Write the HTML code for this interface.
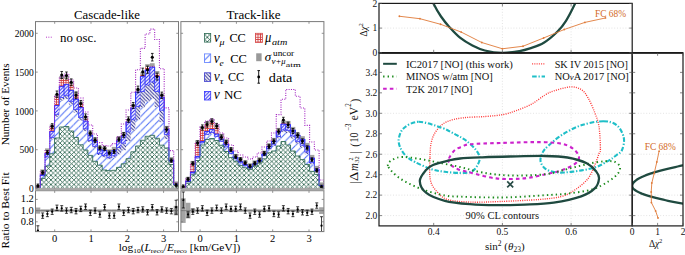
<!DOCTYPE html><html><head><meta charset="utf-8"><style>html,body{margin:0;padding:0;background:#fff;width:685px;height:255px;overflow:hidden}svg{display:block}</style></head><body>
<svg width="685" height="255" viewBox="0 0 685 255">
<rect width="685" height="255" fill="#fff"/>
<defs>
<pattern id="pG" patternUnits="userSpaceOnUse" width="4.6" height="4.6" x="0.3" y="0.5">
<rect width="4.6" height="4.6" fill="#fff"/>
<path d="M-1,1 L1,-1 M0,4.6 L4.6,0 M3.5999999999999996,5.6 L5.6,3.5999999999999996 M-1,3.5999999999999996 L1,5.6 M0,0 L4.6,4.6 M3.5999999999999996,-1 L5.6,1" stroke="#215c46" stroke-width="0.82"/>
</pattern>
<pattern id="pE" patternUnits="userSpaceOnUse" width="7.35" height="7.35">
<rect width="7.35" height="7.35" fill="#fff"/>
<path d="M-1,1 L1,-1 M0,7.35 L7.35,0 M6.35,8.35 L8.35,6.35" stroke="#4a6cf5" stroke-width="1.0"/>
</pattern>
<pattern id="pT" patternUnits="userSpaceOnUse" width="3.5" height="3.5">
<rect width="3.5" height="3.5" fill="#fff"/>
<path d="M-1,2.5 L1,4.5 M0,0 L3.5,3.5 M2.5,-1 L4.5,1" stroke="#25258c" stroke-width="0.95"/>
</pattern>
<pattern id="pN" patternUnits="userSpaceOnUse" width="3.5" height="3.5">
<rect width="3.5" height="3.5" fill="#fff"/>
<path d="M-1,1 L1,-1 M0,3.5 L3.5,0 M2.5,4.5 L4.5,2.5" stroke="#2323f0" stroke-width="1.05"/>
</pattern>
<pattern id="pR" patternUnits="userSpaceOnUse" width="2.4" height="2.4">
<rect width="2.4" height="2.4" fill="#fff"/>
<path d="M1.2,0 V2.4 M0,1.2 H2.4" stroke="#cf3838" stroke-width="0.9"/>
</pattern>
</defs>
<g font-family="Liberation Serif, serif" fill="#000">
<text x="107" y="18.6" font-size="12.5" text-anchor="middle" textLength="66" lengthAdjust="spacingAndGlyphs">Cascade-like</text>
<text x="253.5" y="18.6" font-size="12.5" text-anchor="middle" textLength="54" lengthAdjust="spacingAndGlyphs">Track-like</text>
</g>
<clipPath id="cc"><rect x="35.5" y="21.6" width="143" height="166.9"/></clipPath>
<clipPath id="ct"><rect x="180.9" y="21.6" width="143" height="166.9"/></clipPath>
<clipPath id="rc"><rect x="35.5" y="190.7" width="143" height="40.900000000000006"/></clipPath>
<clipPath id="rt"><rect x="180.9" y="190.7" width="143" height="40.900000000000006"/></clipPath>
<g clip-path="url(#cc)"><rect x="35.50" y="188.31" width="4.77" height="0.19" fill="url(#pE)"/>
<rect x="35.50" y="188.20" width="4.77" height="0.08" fill="url(#pN)" stroke="#2a2aff" stroke-width="0.7"/>
<rect x="35.50" y="187.80" width="4.77" height="0.40" fill="url(#pR)"/>
<rect x="40.27" y="178.40" width="4.77" height="10.10" fill="url(#pG)"/>
<rect x="40.27" y="176.06" width="4.77" height="2.34" fill="url(#pE)"/>
<rect x="40.27" y="175.77" width="4.77" height="0.29" fill="url(#pT)"/>
<rect x="40.27" y="174.80" width="4.77" height="0.97" fill="url(#pN)" stroke="#2a2aff" stroke-width="0.7"/>
<rect x="40.27" y="172.00" width="4.77" height="2.80" fill="url(#pR)"/>
<rect x="45.03" y="166.00" width="4.77" height="22.50" fill="url(#pG)"/>
<rect x="45.03" y="157.88" width="4.77" height="8.12" fill="url(#pE)"/>
<rect x="45.03" y="156.88" width="4.77" height="1.00" fill="url(#pT)"/>
<rect x="45.03" y="153.50" width="4.77" height="3.38" fill="url(#pN)" stroke="#2a2aff" stroke-width="0.7"/>
<rect x="45.03" y="151.00" width="4.77" height="2.50" fill="url(#pR)"/>
<rect x="49.80" y="153.80" width="4.77" height="34.70" fill="url(#pG)"/>
<rect x="49.80" y="139.31" width="4.77" height="14.50" fill="url(#pE)"/>
<rect x="49.80" y="137.52" width="4.77" height="1.78" fill="url(#pT)"/>
<rect x="49.80" y="131.50" width="4.77" height="6.02" fill="url(#pN)" stroke="#2a2aff" stroke-width="0.7"/>
<rect x="49.80" y="127.00" width="4.77" height="4.50" fill="url(#pR)"/>
<rect x="54.57" y="138.00" width="4.77" height="50.50" fill="url(#pG)"/>
<rect x="54.57" y="116.88" width="4.77" height="21.12" fill="url(#pE)"/>
<rect x="54.57" y="114.28" width="4.77" height="2.60" fill="url(#pT)"/>
<rect x="54.57" y="105.50" width="4.77" height="8.78" fill="url(#pN)" stroke="#2a2aff" stroke-width="0.7"/>
<rect x="54.57" y="97.20" width="4.77" height="8.30" fill="url(#pR)"/>
<rect x="59.33" y="127.00" width="4.77" height="61.50" fill="url(#pG)"/>
<rect x="59.33" y="100.61" width="4.77" height="26.39" fill="url(#pE)"/>
<rect x="59.33" y="97.36" width="4.77" height="3.25" fill="url(#pT)"/>
<rect x="59.33" y="86.40" width="4.77" height="10.96" fill="url(#pN)" stroke="#2a2aff" stroke-width="0.7"/>
<rect x="59.33" y="78.50" width="4.77" height="7.90" fill="url(#pR)"/>
<rect x="64.10" y="126.50" width="4.77" height="62.00" fill="url(#pG)"/>
<rect x="64.10" y="99.14" width="4.77" height="27.36" fill="url(#pE)"/>
<rect x="64.10" y="95.77" width="4.77" height="3.37" fill="url(#pT)"/>
<rect x="64.10" y="84.40" width="4.77" height="11.37" fill="url(#pN)" stroke="#2a2aff" stroke-width="0.7"/>
<rect x="64.10" y="78.50" width="4.77" height="5.90" fill="url(#pR)"/>
<rect x="68.87" y="131.00" width="4.77" height="57.50" fill="url(#pG)"/>
<rect x="68.87" y="104.55" width="4.77" height="26.45" fill="url(#pE)"/>
<rect x="68.87" y="101.29" width="4.77" height="3.26" fill="url(#pT)"/>
<rect x="68.87" y="90.30" width="4.77" height="10.99" fill="url(#pN)" stroke="#2a2aff" stroke-width="0.7"/>
<rect x="68.87" y="84.40" width="4.77" height="5.90" fill="url(#pR)"/>
<rect x="73.63" y="137.50" width="4.77" height="51.00" fill="url(#pG)"/>
<rect x="73.63" y="112.61" width="4.77" height="24.89" fill="url(#pE)"/>
<rect x="73.63" y="109.54" width="4.77" height="3.06" fill="url(#pT)"/>
<rect x="73.63" y="99.20" width="4.77" height="10.34" fill="url(#pN)" stroke="#2a2aff" stroke-width="0.7"/>
<rect x="73.63" y="94.20" width="4.77" height="5.00" fill="url(#pR)"/>
<rect x="78.40" y="144.80" width="4.77" height="43.70" fill="url(#pG)"/>
<rect x="78.40" y="120.56" width="4.77" height="24.25" fill="url(#pE)"/>
<rect x="78.40" y="117.57" width="4.77" height="2.98" fill="url(#pT)"/>
<rect x="78.40" y="107.50" width="4.77" height="10.07" fill="url(#pN)" stroke="#2a2aff" stroke-width="0.7"/>
<rect x="78.40" y="104.00" width="4.77" height="3.50" fill="url(#pR)"/>
<rect x="83.17" y="150.00" width="4.77" height="38.50" fill="url(#pG)"/>
<rect x="83.17" y="131.15" width="4.77" height="18.85" fill="url(#pE)"/>
<rect x="83.17" y="128.83" width="4.77" height="2.32" fill="url(#pT)"/>
<rect x="83.17" y="121.00" width="4.77" height="7.83" fill="url(#pN)" stroke="#2a2aff" stroke-width="0.7"/>
<rect x="83.17" y="118.60" width="4.77" height="2.40" fill="url(#pR)"/>
<rect x="87.93" y="155.40" width="4.77" height="33.10" fill="url(#pG)"/>
<rect x="87.93" y="142.14" width="4.77" height="13.26" fill="url(#pE)"/>
<rect x="87.93" y="140.51" width="4.77" height="1.63" fill="url(#pT)"/>
<rect x="87.93" y="135.00" width="4.77" height="5.51" fill="url(#pN)" stroke="#2a2aff" stroke-width="0.7"/>
<rect x="87.93" y="134.00" width="4.77" height="1.00" fill="url(#pR)"/>
<rect x="92.70" y="161.30" width="4.77" height="27.20" fill="url(#pG)"/>
<rect x="92.70" y="148.11" width="4.77" height="13.19" fill="url(#pE)"/>
<rect x="92.70" y="146.48" width="4.77" height="1.62" fill="url(#pT)"/>
<rect x="92.70" y="141.00" width="4.77" height="5.48" fill="url(#pN)" stroke="#2a2aff" stroke-width="0.7"/>
<rect x="92.70" y="140.00" width="4.77" height="1.00" fill="url(#pR)"/>
<rect x="97.47" y="165.20" width="4.77" height="23.30" fill="url(#pG)"/>
<rect x="97.47" y="155.00" width="4.77" height="10.20" fill="url(#pE)"/>
<rect x="97.47" y="153.74" width="4.77" height="1.26" fill="url(#pT)"/>
<rect x="97.47" y="149.50" width="4.77" height="4.24" fill="url(#pN)" stroke="#2a2aff" stroke-width="0.7"/>
<rect x="97.47" y="148.50" width="4.77" height="1.00" fill="url(#pR)"/>
<rect x="102.23" y="170.00" width="4.77" height="18.50" fill="url(#pG)"/>
<rect x="102.23" y="157.32" width="4.77" height="12.68" fill="url(#pE)"/>
<rect x="102.23" y="155.76" width="4.77" height="1.56" fill="url(#pT)"/>
<rect x="102.23" y="150.50" width="4.77" height="5.26" fill="url(#pN)" stroke="#2a2aff" stroke-width="0.7"/>
<rect x="102.23" y="149.50" width="4.77" height="1.00" fill="url(#pR)"/>
<rect x="107.00" y="170.70" width="4.77" height="17.80" fill="url(#pG)"/>
<rect x="107.00" y="159.19" width="4.77" height="11.50" fill="url(#pE)"/>
<rect x="107.00" y="157.78" width="4.77" height="1.42" fill="url(#pT)"/>
<rect x="107.00" y="153.00" width="4.77" height="4.78" fill="url(#pN)" stroke="#2a2aff" stroke-width="0.7"/>
<rect x="107.00" y="152.00" width="4.77" height="1.00" fill="url(#pR)"/>
<rect x="111.77" y="170.30" width="4.77" height="18.20" fill="url(#pG)"/>
<rect x="111.77" y="157.43" width="4.77" height="12.87" fill="url(#pE)"/>
<rect x="111.77" y="155.85" width="4.77" height="1.58" fill="url(#pT)"/>
<rect x="111.77" y="150.50" width="4.77" height="5.35" fill="url(#pN)" stroke="#2a2aff" stroke-width="0.7"/>
<rect x="111.77" y="149.50" width="4.77" height="1.00" fill="url(#pR)"/>
<rect x="116.53" y="167.40" width="4.77" height="21.10" fill="url(#pG)"/>
<rect x="116.53" y="154.25" width="4.77" height="13.15" fill="url(#pE)"/>
<rect x="116.53" y="147.40" width="4.77" height="6.85" fill="url(#pT)"/>
<rect x="116.53" y="140.00" width="4.77" height="7.40" fill="url(#pN)" stroke="#2a2aff" stroke-width="0.7"/>
<rect x="116.53" y="139.00" width="4.77" height="1.00" fill="url(#pR)"/>
<rect x="121.30" y="163.80" width="4.77" height="24.70" fill="url(#pG)"/>
<rect x="121.30" y="150.22" width="4.77" height="13.58" fill="url(#pE)"/>
<rect x="121.30" y="143.14" width="4.77" height="7.07" fill="url(#pT)"/>
<rect x="121.30" y="135.50" width="4.77" height="7.64" fill="url(#pN)" stroke="#2a2aff" stroke-width="0.7"/>
<rect x="121.30" y="134.50" width="4.77" height="1.00" fill="url(#pR)"/>
<rect x="126.07" y="158.70" width="4.77" height="29.80" fill="url(#pG)"/>
<rect x="126.07" y="141.08" width="4.77" height="17.62" fill="url(#pE)"/>
<rect x="126.07" y="131.91" width="4.77" height="9.18" fill="url(#pT)"/>
<rect x="126.07" y="122.00" width="4.77" height="9.91" fill="url(#pN)" stroke="#2a2aff" stroke-width="0.7"/>
<rect x="126.07" y="121.60" width="4.77" height="0.40" fill="url(#pR)"/>
<rect x="130.83" y="151.80" width="4.77" height="36.70" fill="url(#pG)"/>
<rect x="130.83" y="130.78" width="4.77" height="21.02" fill="url(#pE)"/>
<rect x="130.83" y="119.83" width="4.77" height="10.95" fill="url(#pT)"/>
<rect x="130.83" y="108.00" width="4.77" height="11.83" fill="url(#pN)" stroke="#2a2aff" stroke-width="0.7"/>
<rect x="130.83" y="106.50" width="4.77" height="1.50" fill="url(#pR)"/>
<rect x="135.60" y="146.00" width="4.77" height="42.50" fill="url(#pG)"/>
<rect x="135.60" y="120.08" width="4.77" height="25.92" fill="url(#pE)"/>
<rect x="135.60" y="106.58" width="4.77" height="13.50" fill="url(#pT)"/>
<rect x="135.60" y="92.00" width="4.77" height="14.58" fill="url(#pN)" stroke="#2a2aff" stroke-width="0.7"/>
<rect x="135.60" y="91.30" width="4.77" height="0.70" fill="url(#pR)"/>
<rect x="140.37" y="140.30" width="4.77" height="48.20" fill="url(#pG)"/>
<rect x="140.37" y="107.53" width="4.77" height="32.78" fill="url(#pE)"/>
<rect x="140.37" y="91.60" width="4.77" height="15.93" fill="url(#pT)"/>
<rect x="140.37" y="76.60" width="4.77" height="15.00" fill="url(#pN)" stroke="#2a2aff" stroke-width="0.7"/>
<rect x="140.37" y="74.60" width="4.77" height="2.00" fill="url(#pR)"/>
<rect x="145.13" y="136.30" width="4.77" height="52.20" fill="url(#pG)"/>
<rect x="145.13" y="101.58" width="4.77" height="34.73" fill="url(#pE)"/>
<rect x="145.13" y="85.00" width="4.77" height="16.58" fill="url(#pT)"/>
<rect x="145.13" y="70.00" width="4.77" height="15.00" fill="url(#pN)" stroke="#2a2aff" stroke-width="0.7"/>
<rect x="145.13" y="66.80" width="4.77" height="3.20" fill="url(#pR)"/>
<rect x="149.90" y="135.30" width="4.77" height="53.20" fill="url(#pG)"/>
<rect x="149.90" y="99.00" width="4.77" height="36.30" fill="url(#pE)"/>
<rect x="149.90" y="82.00" width="4.77" height="17.00" fill="url(#pT)"/>
<rect x="149.90" y="67.00" width="4.77" height="15.00" fill="url(#pN)" stroke="#2a2aff" stroke-width="0.7"/>
<rect x="149.90" y="65.80" width="4.77" height="1.20" fill="url(#pR)"/>
<rect x="154.67" y="138.30" width="4.77" height="50.20" fill="url(#pG)"/>
<rect x="154.67" y="107.03" width="4.77" height="31.28" fill="url(#pE)"/>
<rect x="154.67" y="91.60" width="4.77" height="15.43" fill="url(#pT)"/>
<rect x="154.67" y="76.60" width="4.77" height="15.00" fill="url(#pN)" stroke="#2a2aff" stroke-width="0.7"/>
<rect x="154.67" y="73.60" width="4.77" height="3.00" fill="url(#pR)"/>
<rect x="159.43" y="145.20" width="4.77" height="43.30" fill="url(#pG)"/>
<rect x="159.43" y="122.16" width="4.77" height="23.04" fill="url(#pE)"/>
<rect x="159.43" y="110.16" width="4.77" height="12.00" fill="url(#pT)"/>
<rect x="159.43" y="97.20" width="4.77" height="12.96" fill="url(#pN)" stroke="#2a2aff" stroke-width="0.7"/>
<rect x="159.43" y="96.00" width="4.77" height="1.20" fill="url(#pR)"/>
<rect x="164.20" y="148.00" width="4.77" height="40.50" fill="url(#pG)"/>
<rect x="164.20" y="139.12" width="4.77" height="8.88" fill="url(#pE)"/>
<rect x="164.20" y="134.50" width="4.77" height="4.62" fill="url(#pT)"/>
<rect x="164.20" y="129.50" width="4.77" height="5.00" fill="url(#pN)" stroke="#2a2aff" stroke-width="0.7"/>
<rect x="164.20" y="128.50" width="4.77" height="1.00" fill="url(#pR)"/>
<rect x="168.97" y="164.50" width="4.77" height="24.00" fill="url(#pG)"/>
<rect x="168.97" y="162.34" width="4.77" height="2.16" fill="url(#pE)"/>
<rect x="168.97" y="161.22" width="4.77" height="1.12" fill="url(#pT)"/>
<rect x="168.97" y="160.00" width="4.77" height="1.22" fill="url(#pN)" stroke="#2a2aff" stroke-width="0.7"/>
<rect x="168.97" y="159.60" width="4.77" height="0.40" fill="url(#pR)"/>
<rect x="173.73" y="184.80" width="4.77" height="3.70" fill="url(#pG)"/>
<rect x="173.73" y="184.61" width="4.77" height="0.19" fill="url(#pE)"/>
<rect x="173.73" y="184.40" width="4.77" height="0.11" fill="url(#pN)" stroke="#2a2aff" stroke-width="0.7"/>
<rect x="173.73" y="184.00" width="4.77" height="0.40" fill="url(#pR)"/>
<path d="M35.50,188.50 L35.50,188.50 L40.27,188.50 L40.27,178.40 L45.03,178.40 L45.03,166.00 L49.80,166.00 L49.80,153.80 L54.57,153.80 L54.57,138.00 L59.33,138.00 L59.33,127.00 L64.10,127.00 L64.10,126.50 L68.87,126.50 L68.87,131.00 L73.63,131.00 L73.63,137.50 L78.40,137.50 L78.40,144.80 L83.17,144.80 L83.17,150.00 L87.93,150.00 L87.93,155.40 L92.70,155.40 L92.70,161.30 L97.47,161.30 L97.47,165.20 L102.23,165.20 L102.23,170.00 L107.00,170.00 L107.00,170.70 L111.77,170.70 L111.77,170.30 L116.53,170.30 L116.53,167.40 L121.30,167.40 L121.30,163.80 L126.07,163.80 L126.07,158.70 L130.83,158.70 L130.83,151.80 L135.60,151.80 L135.60,146.00 L140.37,146.00 L140.37,140.30 L145.13,140.30 L145.13,136.30 L149.90,136.30 L149.90,135.30 L154.67,135.30 L154.67,138.30 L159.43,138.30 L159.43,145.20 L164.20,145.20 L164.20,148.00 L168.97,148.00 L168.97,164.50 L173.73,164.50 L173.73,184.80 L178.50,184.80 L178.50,188.50" fill="none" stroke="#2f6b55" stroke-width="0.9" opacity="1"/>
<path d="M35.50,188.50 L35.50,188.20 L40.27,188.20 L40.27,174.80 L45.03,174.80 L45.03,153.50 L49.80,153.50 L49.80,131.50 L54.57,131.50 L54.57,105.50 L59.33,105.50 L59.33,86.40 L64.10,86.40 L64.10,84.40 L68.87,84.40 L68.87,90.30 L73.63,90.30 L73.63,99.20 L78.40,99.20 L78.40,107.50 L83.17,107.50 L83.17,121.00 L87.93,121.00 L87.93,135.00 L92.70,135.00 L92.70,141.00 L97.47,141.00 L97.47,149.50 L102.23,149.50 L102.23,150.50 L107.00,150.50 L107.00,153.00 L111.77,153.00 L111.77,150.50 L116.53,150.50 L116.53,140.00 L121.30,140.00 L121.30,135.50 L126.07,135.50 L126.07,122.00 L130.83,122.00 L130.83,108.00 L135.60,108.00 L135.60,92.00 L140.37,92.00 L140.37,76.60 L145.13,76.60 L145.13,70.00 L149.90,70.00 L149.90,67.00 L154.67,67.00 L154.67,76.60 L159.43,76.60 L159.43,97.20 L164.20,97.20 L164.20,129.50 L168.97,129.50 L168.97,160.00 L173.73,160.00 L173.73,184.40 L178.50,184.40 L178.50,188.50" fill="none" stroke="#3030ff" stroke-width="0.9" opacity="1"/>
<rect x="35.50" y="185.20" width="4.77" height="2.8" fill="#8a8a8a" opacity="0.8"/>
<rect x="40.27" y="169.40" width="4.77" height="2.8" fill="#8a8a8a" opacity="0.8"/>
<rect x="45.03" y="148.40" width="4.77" height="2.8" fill="#8a8a8a" opacity="0.8"/>
<rect x="49.80" y="124.40" width="4.77" height="2.8" fill="#8a8a8a" opacity="0.8"/>
<rect x="54.57" y="94.60" width="4.77" height="2.8" fill="#8a8a8a" opacity="0.8"/>
<rect x="59.33" y="75.90" width="4.77" height="2.8" fill="#8a8a8a" opacity="0.8"/>
<rect x="64.10" y="75.90" width="4.77" height="2.8" fill="#8a8a8a" opacity="0.8"/>
<rect x="68.87" y="81.80" width="4.77" height="2.8" fill="#8a8a8a" opacity="0.8"/>
<rect x="73.63" y="91.60" width="4.77" height="2.8" fill="#8a8a8a" opacity="0.8"/>
<rect x="78.40" y="101.40" width="4.77" height="2.8" fill="#8a8a8a" opacity="0.8"/>
<rect x="83.17" y="116.00" width="4.77" height="2.8" fill="#8a8a8a" opacity="0.8"/>
<rect x="87.93" y="131.40" width="4.77" height="2.8" fill="#8a8a8a" opacity="0.8"/>
<rect x="92.70" y="137.40" width="4.77" height="2.8" fill="#8a8a8a" opacity="0.8"/>
<rect x="97.47" y="145.90" width="4.77" height="2.8" fill="#8a8a8a" opacity="0.8"/>
<rect x="102.23" y="146.90" width="4.77" height="2.8" fill="#8a8a8a" opacity="0.8"/>
<rect x="107.00" y="149.40" width="4.77" height="2.8" fill="#8a8a8a" opacity="0.8"/>
<rect x="111.77" y="146.90" width="4.77" height="2.8" fill="#8a8a8a" opacity="0.8"/>
<rect x="116.53" y="136.40" width="4.77" height="2.8" fill="#8a8a8a" opacity="0.8"/>
<rect x="121.30" y="131.90" width="4.77" height="2.8" fill="#8a8a8a" opacity="0.8"/>
<rect x="126.07" y="119.00" width="4.77" height="2.8" fill="#8a8a8a" opacity="0.8"/>
<rect x="130.83" y="103.90" width="4.77" height="2.8" fill="#8a8a8a" opacity="0.8"/>
<rect x="135.60" y="88.70" width="4.77" height="2.8" fill="#8a8a8a" opacity="0.8"/>
<rect x="140.37" y="72.00" width="4.77" height="2.8" fill="#8a8a8a" opacity="0.8"/>
<rect x="145.13" y="64.20" width="4.77" height="2.8" fill="#8a8a8a" opacity="0.8"/>
<rect x="149.90" y="63.20" width="4.77" height="2.8" fill="#8a8a8a" opacity="0.8"/>
<rect x="154.67" y="71.00" width="4.77" height="2.8" fill="#8a8a8a" opacity="0.8"/>
<rect x="159.43" y="93.40" width="4.77" height="2.8" fill="#8a8a8a" opacity="0.8"/>
<rect x="164.20" y="125.90" width="4.77" height="2.8" fill="#8a8a8a" opacity="0.8"/>
<rect x="168.97" y="157.00" width="4.77" height="2.8" fill="#8a8a8a" opacity="0.8"/>
<rect x="173.73" y="181.40" width="4.77" height="2.8" fill="#8a8a8a" opacity="0.8"/>
<path d="M35.50,188.50 L35.50,187.00 L40.27,187.00 L40.27,172.00 L45.03,172.00 L45.03,150.50 L49.80,150.50 L49.80,126.00 L54.57,126.00 L54.57,96.00 L59.33,96.00 L59.33,77.00 L64.10,77.00 L64.10,74.00 L68.87,74.00 L68.87,80.00 L73.63,80.00 L73.63,88.00 L78.40,88.00 L78.40,98.00 L83.17,98.00 L83.17,112.00 L87.93,112.00 L87.93,125.00 L92.70,125.00 L92.70,134.00 L97.47,134.00 L97.47,142.60 L102.23,142.60 L102.23,145.60 L107.00,145.60 L107.00,146.00 L111.77,146.00 L111.77,143.60 L116.53,143.60 L116.53,136.80 L121.30,136.80 L121.30,124.00 L126.07,124.00 L126.07,110.00 L130.83,110.00 L130.83,92.30 L135.60,92.30 L135.60,69.70 L140.37,69.70 L140.37,48.40 L145.13,48.40 L145.13,34.00 L149.90,34.00 L149.90,29.10 L154.67,29.10 L154.67,39.50 L159.43,39.50 L159.43,68.70 L164.20,68.70 L164.20,107.90 L168.97,107.90 L168.97,150.60 L173.73,150.60 L173.73,183.00 L178.50,183.00 L178.50,188.50" fill="none" stroke="#a020c0" stroke-width="1.1" stroke-dasharray="1 1.35" opacity="1"/>
<path d="M37.88,184.00 V187.60 M36.58,184.00 H39.18 M36.58,187.60 H39.18" stroke="#000" stroke-width="0.8" fill="none"/>
<circle cx="37.88" cy="185.80" r="1.55" fill="#000"/>
<path d="M42.65,170.70 V174.30 M41.35,170.70 H43.95 M41.35,174.30 H43.95" stroke="#000" stroke-width="0.8" fill="none"/>
<circle cx="42.65" cy="172.50" r="1.55" fill="#000"/>
<path d="M47.42,150.52 V154.48 M46.12,150.52 H48.72 M46.12,154.48 H48.72" stroke="#000" stroke-width="0.8" fill="none"/>
<circle cx="47.42" cy="152.50" r="1.55" fill="#000"/>
<path d="M52.18,123.70 V128.90 M50.88,123.70 H53.48 M50.88,128.90 H53.48" stroke="#000" stroke-width="0.8" fill="none"/>
<circle cx="52.18" cy="126.30" r="1.55" fill="#000"/>
<path d="M56.95,91.00 V97.40 M55.65,91.00 H58.25 M55.65,97.40 H58.25" stroke="#000" stroke-width="0.8" fill="none"/>
<circle cx="56.95" cy="94.20" r="1.55" fill="#000"/>
<path d="M61.72,71.48 V78.52 M60.42,71.48 H63.02 M60.42,78.52 H63.02" stroke="#000" stroke-width="0.8" fill="none"/>
<circle cx="61.72" cy="75.00" r="1.55" fill="#000"/>
<path d="M66.48,71.99 V79.01 M65.18,71.99 H67.78 M65.18,79.01 H67.78" stroke="#000" stroke-width="0.8" fill="none"/>
<circle cx="66.48" cy="75.50" r="1.55" fill="#000"/>
<path d="M71.25,78.90 V85.70 M69.95,78.90 H72.55 M69.95,85.70 H72.55" stroke="#000" stroke-width="0.8" fill="none"/>
<circle cx="71.25" cy="82.30" r="1.55" fill="#000"/>
<path d="M76.02,92.01 V98.39 M74.72,92.01 H77.32 M74.72,98.39 H77.32" stroke="#000" stroke-width="0.8" fill="none"/>
<circle cx="76.02" cy="95.20" r="1.55" fill="#000"/>
<path d="M80.78,100.46 V106.54 M79.48,100.46 H82.08 M79.48,106.54 H82.08" stroke="#000" stroke-width="0.8" fill="none"/>
<circle cx="80.78" cy="103.50" r="1.55" fill="#000"/>
<path d="M85.55,113.90 V119.50 M84.25,113.90 H86.85 M84.25,119.50 H86.85" stroke="#000" stroke-width="0.8" fill="none"/>
<circle cx="85.55" cy="116.70" r="1.55" fill="#000"/>
<path d="M90.32,130.95 V135.85 M89.02,130.95 H91.62 M89.02,135.85 H91.62" stroke="#000" stroke-width="0.8" fill="none"/>
<circle cx="90.32" cy="133.40" r="1.55" fill="#000"/>
<path d="M95.08,137.91 V142.49 M93.78,137.91 H96.38 M93.78,142.49 H96.38" stroke="#000" stroke-width="0.8" fill="none"/>
<circle cx="95.08" cy="140.20" r="1.55" fill="#000"/>
<path d="M99.85,145.90 V150.10 M98.55,145.90 H101.15 M98.55,150.10 H101.15" stroke="#000" stroke-width="0.8" fill="none"/>
<circle cx="99.85" cy="148.00" r="1.55" fill="#000"/>
<path d="M104.62,146.41 V150.59 M103.32,146.41 H105.92 M103.32,150.59 H105.92" stroke="#000" stroke-width="0.8" fill="none"/>
<circle cx="104.62" cy="148.50" r="1.55" fill="#000"/>
<path d="M109.38,151.03 V154.97 M108.08,151.03 H110.68 M108.08,154.97 H110.68" stroke="#000" stroke-width="0.8" fill="none"/>
<circle cx="109.38" cy="153.00" r="1.55" fill="#000"/>
<path d="M114.15,149.49 V153.51 M112.85,149.49 H115.45 M112.85,153.51 H115.45" stroke="#000" stroke-width="0.8" fill="none"/>
<circle cx="114.15" cy="151.50" r="1.55" fill="#000"/>
<path d="M118.92,137.19 V141.81 M117.62,137.19 H120.22 M117.62,141.81 H120.22" stroke="#000" stroke-width="0.8" fill="none"/>
<circle cx="118.92" cy="139.50" r="1.55" fill="#000"/>
<path d="M123.68,132.59 V137.41 M122.38,132.59 H124.98 M122.38,137.41 H124.98" stroke="#000" stroke-width="0.8" fill="none"/>
<circle cx="123.68" cy="135.00" r="1.55" fill="#000"/>
<path d="M128.45,116.86 V122.34 M127.15,116.86 H129.75 M127.15,122.34 H129.75" stroke="#000" stroke-width="0.8" fill="none"/>
<circle cx="128.45" cy="119.60" r="1.55" fill="#000"/>
<path d="M133.22,102.49 V108.51 M131.92,102.49 H134.52 M131.92,108.51 H134.52" stroke="#000" stroke-width="0.8" fill="none"/>
<circle cx="133.22" cy="105.50" r="1.55" fill="#000"/>
<path d="M137.98,86.11 V92.69 M136.68,86.11 H139.28 M136.68,92.69 H139.28" stroke="#000" stroke-width="0.8" fill="none"/>
<circle cx="137.98" cy="89.40" r="1.55" fill="#000"/>
<path d="M142.75,68.13 V75.27 M141.45,68.13 H144.05 M141.45,75.27 H144.05" stroke="#000" stroke-width="0.8" fill="none"/>
<circle cx="142.75" cy="71.70" r="1.55" fill="#000"/>
<path d="M147.52,66.10 V73.30 M146.22,66.10 H148.82 M146.22,73.30 H148.82" stroke="#000" stroke-width="0.8" fill="none"/>
<circle cx="147.52" cy="69.70" r="1.55" fill="#000"/>
<path d="M152.28,53.42 V60.98 M150.98,53.42 H153.58 M150.98,60.98 H153.58" stroke="#000" stroke-width="0.8" fill="none"/>
<circle cx="152.28" cy="57.20" r="1.55" fill="#000"/>
<path d="M157.05,73.11 V80.09 M155.75,73.11 H158.35 M155.75,80.09 H158.35" stroke="#000" stroke-width="0.8" fill="none"/>
<circle cx="157.05" cy="76.60" r="1.55" fill="#000"/>
<path d="M161.82,92.11 V98.49 M160.52,92.11 H163.12 M160.52,98.49 H163.12" stroke="#000" stroke-width="0.8" fill="none"/>
<circle cx="161.82" cy="95.30" r="1.55" fill="#000"/>
<path d="M166.58,126.97 V132.03 M165.28,126.97 H167.88 M165.28,132.03 H167.88" stroke="#000" stroke-width="0.8" fill="none"/>
<circle cx="166.58" cy="129.50" r="1.55" fill="#000"/>
<path d="M171.35,158.80 V162.40 M170.05,158.80 H172.65 M170.05,162.40 H172.65" stroke="#000" stroke-width="0.8" fill="none"/>
<circle cx="171.35" cy="160.60" r="1.55" fill="#000"/>
<path d="M176.12,183.40 V187.00 M174.82,183.40 H177.42 M174.82,187.00 H177.42" stroke="#000" stroke-width="0.8" fill="none"/>
<circle cx="176.12" cy="185.20" r="1.55" fill="#000"/></g>
<g clip-path="url(#ct)"><rect x="180.90" y="188.00" width="4.77" height="0.30" fill="url(#pR)"/>
<rect x="185.67" y="183.20" width="4.77" height="5.30" fill="url(#pG)"/>
<rect x="185.67" y="182.03" width="4.77" height="1.17" fill="url(#pE)"/>
<rect x="185.67" y="181.77" width="4.77" height="0.26" fill="url(#pT)"/>
<rect x="185.67" y="181.00" width="4.77" height="0.77" fill="url(#pN)" stroke="#2a2aff" stroke-width="0.7"/>
<rect x="185.67" y="179.50" width="4.77" height="1.50" fill="url(#pR)"/>
<rect x="190.43" y="174.80" width="4.77" height="13.70" fill="url(#pG)"/>
<rect x="190.43" y="173.32" width="4.77" height="1.48" fill="url(#pE)"/>
<rect x="190.43" y="172.98" width="4.77" height="0.34" fill="url(#pT)"/>
<rect x="190.43" y="172.00" width="4.77" height="0.98" fill="url(#pN)" stroke="#2a2aff" stroke-width="0.7"/>
<rect x="190.43" y="163.50" width="4.77" height="8.50" fill="url(#pR)"/>
<rect x="195.20" y="160.50" width="4.77" height="28.00" fill="url(#pG)"/>
<rect x="195.20" y="158.38" width="4.77" height="2.12" fill="url(#pE)"/>
<rect x="195.20" y="157.90" width="4.77" height="0.48" fill="url(#pT)"/>
<rect x="195.20" y="156.50" width="4.77" height="1.40" fill="url(#pN)" stroke="#2a2aff" stroke-width="0.7"/>
<rect x="195.20" y="142.80" width="4.77" height="13.70" fill="url(#pR)"/>
<rect x="199.97" y="145.00" width="4.77" height="43.50" fill="url(#pG)"/>
<rect x="199.97" y="143.15" width="4.77" height="1.85" fill="url(#pE)"/>
<rect x="199.97" y="142.73" width="4.77" height="0.42" fill="url(#pT)"/>
<rect x="199.97" y="141.50" width="4.77" height="1.23" fill="url(#pN)" stroke="#2a2aff" stroke-width="0.7"/>
<rect x="199.97" y="128.80" width="4.77" height="12.70" fill="url(#pR)"/>
<rect x="204.73" y="139.50" width="4.77" height="49.00" fill="url(#pG)"/>
<rect x="204.73" y="135.26" width="4.77" height="4.24" fill="url(#pE)"/>
<rect x="204.73" y="134.30" width="4.77" height="0.96" fill="url(#pT)"/>
<rect x="204.73" y="131.50" width="4.77" height="2.80" fill="url(#pN)" stroke="#2a2aff" stroke-width="0.7"/>
<rect x="204.73" y="124.00" width="4.77" height="7.50" fill="url(#pR)"/>
<rect x="209.50" y="138.50" width="4.77" height="50.00" fill="url(#pG)"/>
<rect x="209.50" y="133.73" width="4.77" height="4.77" fill="url(#pE)"/>
<rect x="209.50" y="132.65" width="4.77" height="1.08" fill="url(#pT)"/>
<rect x="209.50" y="129.50" width="4.77" height="3.15" fill="url(#pN)" stroke="#2a2aff" stroke-width="0.7"/>
<rect x="209.50" y="121.80" width="4.77" height="7.70" fill="url(#pR)"/>
<rect x="214.27" y="140.50" width="4.77" height="48.00" fill="url(#pG)"/>
<rect x="214.27" y="137.06" width="4.77" height="3.44" fill="url(#pE)"/>
<rect x="214.27" y="136.28" width="4.77" height="0.78" fill="url(#pT)"/>
<rect x="214.27" y="134.00" width="4.77" height="2.28" fill="url(#pN)" stroke="#2a2aff" stroke-width="0.7"/>
<rect x="214.27" y="127.00" width="4.77" height="7.00" fill="url(#pR)"/>
<rect x="219.03" y="145.30" width="4.77" height="43.20" fill="url(#pG)"/>
<rect x="219.03" y="141.96" width="4.77" height="3.34" fill="url(#pE)"/>
<rect x="219.03" y="141.21" width="4.77" height="0.76" fill="url(#pT)"/>
<rect x="219.03" y="139.00" width="4.77" height="2.21" fill="url(#pN)" stroke="#2a2aff" stroke-width="0.7"/>
<rect x="219.03" y="136.50" width="4.77" height="2.50" fill="url(#pR)"/>
<rect x="223.80" y="151.50" width="4.77" height="37.00" fill="url(#pG)"/>
<rect x="223.80" y="147.74" width="4.77" height="3.76" fill="url(#pE)"/>
<rect x="223.80" y="146.88" width="4.77" height="0.85" fill="url(#pT)"/>
<rect x="223.80" y="144.40" width="4.77" height="2.48" fill="url(#pN)" stroke="#2a2aff" stroke-width="0.7"/>
<rect x="223.80" y="142.00" width="4.77" height="2.40" fill="url(#pR)"/>
<rect x="228.57" y="157.60" width="4.77" height="30.90" fill="url(#pG)"/>
<rect x="228.57" y="154.37" width="4.77" height="3.23" fill="url(#pE)"/>
<rect x="228.57" y="153.63" width="4.77" height="0.73" fill="url(#pT)"/>
<rect x="228.57" y="151.50" width="4.77" height="2.13" fill="url(#pN)" stroke="#2a2aff" stroke-width="0.7"/>
<rect x="228.57" y="150.00" width="4.77" height="1.50" fill="url(#pR)"/>
<rect x="233.33" y="161.20" width="4.77" height="27.30" fill="url(#pG)"/>
<rect x="233.33" y="159.29" width="4.77" height="1.91" fill="url(#pE)"/>
<rect x="233.33" y="158.86" width="4.77" height="0.43" fill="url(#pT)"/>
<rect x="233.33" y="157.60" width="4.77" height="1.26" fill="url(#pN)" stroke="#2a2aff" stroke-width="0.7"/>
<rect x="233.33" y="156.50" width="4.77" height="1.10" fill="url(#pR)"/>
<rect x="238.10" y="165.60" width="4.77" height="22.90" fill="url(#pG)"/>
<rect x="238.10" y="163.27" width="4.77" height="2.33" fill="url(#pE)"/>
<rect x="238.10" y="162.74" width="4.77" height="0.53" fill="url(#pT)"/>
<rect x="238.10" y="161.20" width="4.77" height="1.54" fill="url(#pN)" stroke="#2a2aff" stroke-width="0.7"/>
<rect x="238.10" y="160.00" width="4.77" height="1.20" fill="url(#pR)"/>
<rect x="242.87" y="167.80" width="4.77" height="20.70" fill="url(#pG)"/>
<rect x="242.87" y="166.05" width="4.77" height="1.75" fill="url(#pE)"/>
<rect x="242.87" y="165.66" width="4.77" height="0.40" fill="url(#pT)"/>
<rect x="242.87" y="164.50" width="4.77" height="1.16" fill="url(#pN)" stroke="#2a2aff" stroke-width="0.7"/>
<rect x="242.87" y="163.00" width="4.77" height="1.50" fill="url(#pR)"/>
<rect x="247.63" y="169.60" width="4.77" height="18.90" fill="url(#pG)"/>
<rect x="247.63" y="168.22" width="4.77" height="1.38" fill="url(#pE)"/>
<rect x="247.63" y="167.91" width="4.77" height="0.31" fill="url(#pT)"/>
<rect x="247.63" y="167.00" width="4.77" height="0.91" fill="url(#pN)" stroke="#2a2aff" stroke-width="0.7"/>
<rect x="247.63" y="166.00" width="4.77" height="1.00" fill="url(#pR)"/>
<rect x="252.40" y="166.20" width="4.77" height="22.30" fill="url(#pG)"/>
<rect x="252.40" y="164.93" width="4.77" height="1.27" fill="url(#pE)"/>
<rect x="252.40" y="164.64" width="4.77" height="0.29" fill="url(#pT)"/>
<rect x="252.40" y="163.80" width="4.77" height="0.84" fill="url(#pN)" stroke="#2a2aff" stroke-width="0.7"/>
<rect x="252.40" y="163.00" width="4.77" height="0.80" fill="url(#pR)"/>
<rect x="257.17" y="163.20" width="4.77" height="25.30" fill="url(#pG)"/>
<rect x="257.17" y="161.77" width="4.77" height="1.43" fill="url(#pE)"/>
<rect x="257.17" y="161.44" width="4.77" height="0.32" fill="url(#pT)"/>
<rect x="257.17" y="160.50" width="4.77" height="0.94" fill="url(#pN)" stroke="#2a2aff" stroke-width="0.7"/>
<rect x="257.17" y="159.80" width="4.77" height="0.70" fill="url(#pR)"/>
<rect x="261.93" y="158.80" width="4.77" height="29.70" fill="url(#pG)"/>
<rect x="261.93" y="156.26" width="4.77" height="2.54" fill="url(#pE)"/>
<rect x="261.93" y="155.68" width="4.77" height="0.58" fill="url(#pT)"/>
<rect x="261.93" y="154.00" width="4.77" height="1.68" fill="url(#pN)" stroke="#2a2aff" stroke-width="0.7"/>
<rect x="261.93" y="153.20" width="4.77" height="0.80" fill="url(#pR)"/>
<rect x="266.70" y="152.80" width="4.77" height="35.70" fill="url(#pG)"/>
<rect x="266.70" y="149.46" width="4.77" height="3.34" fill="url(#pE)"/>
<rect x="266.70" y="148.71" width="4.77" height="0.76" fill="url(#pT)"/>
<rect x="266.70" y="146.50" width="4.77" height="2.21" fill="url(#pN)" stroke="#2a2aff" stroke-width="0.7"/>
<rect x="266.70" y="145.80" width="4.77" height="0.70" fill="url(#pR)"/>
<rect x="271.47" y="151.00" width="4.77" height="37.50" fill="url(#pG)"/>
<rect x="271.47" y="145.97" width="4.77" height="5.03" fill="url(#pE)"/>
<rect x="271.47" y="144.83" width="4.77" height="1.14" fill="url(#pT)"/>
<rect x="271.47" y="141.50" width="4.77" height="3.33" fill="url(#pN)" stroke="#2a2aff" stroke-width="0.7"/>
<rect x="271.47" y="140.50" width="4.77" height="1.00" fill="url(#pR)"/>
<rect x="276.23" y="146.00" width="4.77" height="42.50" fill="url(#pG)"/>
<rect x="276.23" y="138.31" width="4.77" height="7.69" fill="url(#pE)"/>
<rect x="276.23" y="136.57" width="4.77" height="1.74" fill="url(#pT)"/>
<rect x="276.23" y="131.50" width="4.77" height="5.07" fill="url(#pN)" stroke="#2a2aff" stroke-width="0.7"/>
<rect x="276.23" y="130.50" width="4.77" height="1.00" fill="url(#pR)"/>
<rect x="281.00" y="141.50" width="4.77" height="47.00" fill="url(#pG)"/>
<rect x="281.00" y="132.10" width="4.77" height="9.40" fill="url(#pE)"/>
<rect x="281.00" y="130.00" width="4.77" height="2.10" fill="url(#pT)"/>
<rect x="281.00" y="124.00" width="4.77" height="6.00" fill="url(#pN)" stroke="#2a2aff" stroke-width="0.7"/>
<rect x="281.00" y="123.00" width="4.77" height="1.00" fill="url(#pR)"/>
<rect x="285.77" y="145.00" width="4.77" height="43.50" fill="url(#pG)"/>
<rect x="285.77" y="132.96" width="4.77" height="12.04" fill="url(#pE)"/>
<rect x="285.77" y="130.50" width="4.77" height="2.46" fill="url(#pT)"/>
<rect x="285.77" y="124.50" width="4.77" height="6.00" fill="url(#pN)" stroke="#2a2aff" stroke-width="0.7"/>
<rect x="285.77" y="123.50" width="4.77" height="1.00" fill="url(#pR)"/>
<rect x="290.53" y="151.00" width="4.77" height="37.50" fill="url(#pG)"/>
<rect x="290.53" y="138.52" width="4.77" height="12.48" fill="url(#pE)"/>
<rect x="290.53" y="136.00" width="4.77" height="2.52" fill="url(#pT)"/>
<rect x="290.53" y="130.00" width="4.77" height="6.00" fill="url(#pN)" stroke="#2a2aff" stroke-width="0.7"/>
<rect x="290.53" y="129.50" width="4.77" height="0.50" fill="url(#pR)"/>
<rect x="295.30" y="156.00" width="4.77" height="32.50" fill="url(#pG)"/>
<rect x="295.30" y="143.78" width="4.77" height="12.22" fill="url(#pE)"/>
<rect x="295.30" y="141.30" width="4.77" height="2.48" fill="url(#pT)"/>
<rect x="295.30" y="135.30" width="4.77" height="6.00" fill="url(#pN)" stroke="#2a2aff" stroke-width="0.7"/>
<rect x="295.30" y="135.00" width="4.77" height="0.30" fill="url(#pR)"/>
<rect x="300.07" y="159.60" width="4.77" height="28.90" fill="url(#pG)"/>
<rect x="300.07" y="147.65" width="4.77" height="11.95" fill="url(#pE)"/>
<rect x="300.07" y="145.20" width="4.77" height="2.45" fill="url(#pT)"/>
<rect x="300.07" y="139.20" width="4.77" height="6.00" fill="url(#pN)" stroke="#2a2aff" stroke-width="0.7"/>
<rect x="300.07" y="138.80" width="4.77" height="0.40" fill="url(#pR)"/>
<rect x="304.83" y="164.50" width="4.77" height="24.00" fill="url(#pG)"/>
<rect x="304.83" y="154.22" width="4.77" height="10.28" fill="url(#pE)"/>
<rect x="304.83" y="152.00" width="4.77" height="2.22" fill="url(#pT)"/>
<rect x="304.83" y="146.00" width="4.77" height="6.00" fill="url(#pN)" stroke="#2a2aff" stroke-width="0.7"/>
<rect x="304.83" y="145.50" width="4.77" height="0.50" fill="url(#pR)"/>
<rect x="309.60" y="171.40" width="4.77" height="17.10" fill="url(#pG)"/>
<rect x="309.60" y="164.30" width="4.77" height="7.10" fill="url(#pE)"/>
<rect x="309.60" y="162.69" width="4.77" height="1.61" fill="url(#pT)"/>
<rect x="309.60" y="158.00" width="4.77" height="4.69" fill="url(#pN)" stroke="#2a2aff" stroke-width="0.7"/>
<rect x="309.60" y="157.50" width="4.77" height="0.50" fill="url(#pR)"/>
<rect x="314.37" y="174.40" width="4.77" height="14.10" fill="url(#pG)"/>
<rect x="314.37" y="171.54" width="4.77" height="2.86" fill="url(#pE)"/>
<rect x="314.37" y="170.89" width="4.77" height="0.65" fill="url(#pT)"/>
<rect x="314.37" y="169.00" width="4.77" height="1.89" fill="url(#pN)" stroke="#2a2aff" stroke-width="0.7"/>
<rect x="314.37" y="168.50" width="4.77" height="0.50" fill="url(#pR)"/>
<rect x="319.13" y="186.10" width="4.77" height="2.40" fill="url(#pG)"/>
<rect x="319.13" y="185.78" width="4.77" height="0.32" fill="url(#pE)"/>
<rect x="319.13" y="185.50" width="4.77" height="0.21" fill="url(#pN)" stroke="#2a2aff" stroke-width="0.7"/>
<rect x="319.13" y="185.00" width="4.77" height="0.50" fill="url(#pR)"/>
<path d="M180.90,188.50 L180.90,188.50 L185.67,188.50 L185.67,183.20 L190.43,183.20 L190.43,174.80 L195.20,174.80 L195.20,160.50 L199.97,160.50 L199.97,145.00 L204.73,145.00 L204.73,139.50 L209.50,139.50 L209.50,138.50 L214.27,138.50 L214.27,140.50 L219.03,140.50 L219.03,145.30 L223.80,145.30 L223.80,151.50 L228.57,151.50 L228.57,157.60 L233.33,157.60 L233.33,161.20 L238.10,161.20 L238.10,165.60 L242.87,165.60 L242.87,167.80 L247.63,167.80 L247.63,169.60 L252.40,169.60 L252.40,166.20 L257.17,166.20 L257.17,163.20 L261.93,163.20 L261.93,158.80 L266.70,158.80 L266.70,152.80 L271.47,152.80 L271.47,151.00 L276.23,151.00 L276.23,146.00 L281.00,146.00 L281.00,141.50 L285.77,141.50 L285.77,145.00 L290.53,145.00 L290.53,151.00 L295.30,151.00 L295.30,156.00 L300.07,156.00 L300.07,159.60 L304.83,159.60 L304.83,164.50 L309.60,164.50 L309.60,171.40 L314.37,171.40 L314.37,174.40 L319.13,174.40 L319.13,186.10 L323.90,186.10 L323.90,188.50" fill="none" stroke="#2f6b55" stroke-width="0.9" opacity="1"/>
<path d="M180.90,188.50 L180.90,188.30 L185.67,188.30 L185.67,181.00 L190.43,181.00 L190.43,172.00 L195.20,172.00 L195.20,156.50 L199.97,156.50 L199.97,141.50 L204.73,141.50 L204.73,131.50 L209.50,131.50 L209.50,129.50 L214.27,129.50 L214.27,134.00 L219.03,134.00 L219.03,139.00 L223.80,139.00 L223.80,144.40 L228.57,144.40 L228.57,151.50 L233.33,151.50 L233.33,157.60 L238.10,157.60 L238.10,161.20 L242.87,161.20 L242.87,164.50 L247.63,164.50 L247.63,167.00 L252.40,167.00 L252.40,163.80 L257.17,163.80 L257.17,160.50 L261.93,160.50 L261.93,154.00 L266.70,154.00 L266.70,146.50 L271.47,146.50 L271.47,141.50 L276.23,141.50 L276.23,131.50 L281.00,131.50 L281.00,124.00 L285.77,124.00 L285.77,124.50 L290.53,124.50 L290.53,130.00 L295.30,130.00 L295.30,135.30 L300.07,135.30 L300.07,139.20 L304.83,139.20 L304.83,146.00 L309.60,146.00 L309.60,158.00 L314.37,158.00 L314.37,169.00 L319.13,169.00 L319.13,185.50 L323.90,185.50 L323.90,188.50" fill="none" stroke="#3030ff" stroke-width="0.9" opacity="1"/>
<rect x="180.90" y="185.40" width="4.77" height="2.8" fill="#8a8a8a" opacity="0.8"/>
<rect x="185.67" y="176.90" width="4.77" height="2.8" fill="#8a8a8a" opacity="0.8"/>
<rect x="190.43" y="160.90" width="4.77" height="2.8" fill="#8a8a8a" opacity="0.8"/>
<rect x="195.20" y="140.20" width="4.77" height="2.8" fill="#8a8a8a" opacity="0.8"/>
<rect x="199.97" y="126.20" width="4.77" height="2.8" fill="#8a8a8a" opacity="0.8"/>
<rect x="204.73" y="121.40" width="4.77" height="2.8" fill="#8a8a8a" opacity="0.8"/>
<rect x="209.50" y="119.20" width="4.77" height="2.8" fill="#8a8a8a" opacity="0.8"/>
<rect x="214.27" y="124.40" width="4.77" height="2.8" fill="#8a8a8a" opacity="0.8"/>
<rect x="219.03" y="133.90" width="4.77" height="2.8" fill="#8a8a8a" opacity="0.8"/>
<rect x="223.80" y="139.40" width="4.77" height="2.8" fill="#8a8a8a" opacity="0.8"/>
<rect x="228.57" y="147.40" width="4.77" height="2.8" fill="#8a8a8a" opacity="0.8"/>
<rect x="233.33" y="153.90" width="4.77" height="2.8" fill="#8a8a8a" opacity="0.8"/>
<rect x="238.10" y="157.40" width="4.77" height="2.8" fill="#8a8a8a" opacity="0.8"/>
<rect x="242.87" y="160.40" width="4.77" height="2.8" fill="#8a8a8a" opacity="0.8"/>
<rect x="247.63" y="163.40" width="4.77" height="2.8" fill="#8a8a8a" opacity="0.8"/>
<rect x="252.40" y="160.40" width="4.77" height="2.8" fill="#8a8a8a" opacity="0.8"/>
<rect x="257.17" y="157.20" width="4.77" height="2.8" fill="#8a8a8a" opacity="0.8"/>
<rect x="261.93" y="150.60" width="4.77" height="2.8" fill="#8a8a8a" opacity="0.8"/>
<rect x="266.70" y="143.20" width="4.77" height="2.8" fill="#8a8a8a" opacity="0.8"/>
<rect x="271.47" y="137.90" width="4.77" height="2.8" fill="#8a8a8a" opacity="0.8"/>
<rect x="276.23" y="127.90" width="4.77" height="2.8" fill="#8a8a8a" opacity="0.8"/>
<rect x="281.00" y="120.40" width="4.77" height="2.8" fill="#8a8a8a" opacity="0.8"/>
<rect x="285.77" y="120.90" width="4.77" height="2.8" fill="#8a8a8a" opacity="0.8"/>
<rect x="290.53" y="126.90" width="4.77" height="2.8" fill="#8a8a8a" opacity="0.8"/>
<rect x="295.30" y="132.40" width="4.77" height="2.8" fill="#8a8a8a" opacity="0.8"/>
<rect x="300.07" y="136.20" width="4.77" height="2.8" fill="#8a8a8a" opacity="0.8"/>
<rect x="304.83" y="142.90" width="4.77" height="2.8" fill="#8a8a8a" opacity="0.8"/>
<rect x="309.60" y="154.90" width="4.77" height="2.8" fill="#8a8a8a" opacity="0.8"/>
<rect x="314.37" y="165.90" width="4.77" height="2.8" fill="#8a8a8a" opacity="0.8"/>
<rect x="319.13" y="182.40" width="4.77" height="2.8" fill="#8a8a8a" opacity="0.8"/>
<path d="M180.90,188.50 L180.90,187.50 L185.67,187.50 L185.67,179.00 L190.43,179.00 L190.43,163.50 L195.20,163.50 L195.20,142.50 L199.97,142.50 L199.97,127.00 L204.73,127.00 L204.73,121.00 L209.50,121.00 L209.50,119.00 L214.27,119.00 L214.27,124.00 L219.03,124.00 L219.03,133.00 L223.80,133.00 L223.80,138.00 L228.57,138.00 L228.57,145.00 L233.33,145.00 L233.33,151.00 L238.10,151.00 L238.10,155.00 L242.87,155.00 L242.87,157.00 L247.63,157.00 L247.63,159.00 L252.40,159.00 L252.40,157.00 L257.17,157.00 L257.17,153.00 L261.93,153.00 L261.93,147.00 L266.70,147.00 L266.70,141.00 L271.47,141.00 L271.47,133.00 L276.23,133.00 L276.23,114.60 L281.00,114.60 L281.00,99.30 L285.77,99.30 L285.77,89.50 L290.53,89.50 L290.53,89.50 L295.30,89.50 L295.30,96.30 L300.07,96.30 L300.07,108.00 L304.83,108.00 L304.83,125.40 L309.60,125.40 L309.60,142.00 L314.37,142.00 L314.37,150.00 L319.13,150.00 L319.13,180.00 L323.90,180.00 L323.90,188.50" fill="none" stroke="#a020c0" stroke-width="1.1" stroke-dasharray="1 1.35" opacity="1"/>
<path d="M183.28,184.90 V188.50 M181.98,184.90 H184.58 M181.98,188.50 H184.58" stroke="#000" stroke-width="0.8" fill="none"/>
<circle cx="183.28" cy="186.70" r="1.55" fill="#000"/>
<path d="M188.05,177.40 V181.00 M186.75,177.40 H189.35 M186.75,181.00 H189.35" stroke="#000" stroke-width="0.8" fill="none"/>
<circle cx="188.05" cy="179.20" r="1.55" fill="#000"/>
<path d="M192.82,161.70 V165.30 M191.52,161.70 H194.12 M191.52,165.30 H194.12" stroke="#000" stroke-width="0.8" fill="none"/>
<circle cx="192.82" cy="163.50" r="1.55" fill="#000"/>
<path d="M197.58,140.77 V145.23 M196.28,140.77 H198.88 M196.28,145.23 H198.88" stroke="#000" stroke-width="0.8" fill="none"/>
<circle cx="197.58" cy="143.00" r="1.55" fill="#000"/>
<path d="M202.35,124.92 V130.08 M201.05,124.92 H203.65 M201.05,130.08 H203.65" stroke="#000" stroke-width="0.8" fill="none"/>
<circle cx="202.35" cy="127.50" r="1.55" fill="#000"/>
<path d="M207.12,121.86 V127.14 M205.82,121.86 H208.42 M205.82,127.14 H208.42" stroke="#000" stroke-width="0.8" fill="none"/>
<circle cx="207.12" cy="124.50" r="1.55" fill="#000"/>
<path d="M211.88,118.80 V124.20 M210.58,118.80 H213.18 M210.58,124.20 H213.18" stroke="#000" stroke-width="0.8" fill="none"/>
<circle cx="211.88" cy="121.50" r="1.55" fill="#000"/>
<path d="M216.65,123.39 V128.61 M215.35,123.39 H217.95 M215.35,128.61 H217.95" stroke="#000" stroke-width="0.8" fill="none"/>
<circle cx="216.65" cy="126.00" r="1.55" fill="#000"/>
<path d="M221.42,134.94 V139.66 M220.12,134.94 H222.72 M220.12,139.66 H222.72" stroke="#000" stroke-width="0.8" fill="none"/>
<circle cx="221.42" cy="137.30" r="1.55" fill="#000"/>
<path d="M226.18,140.36 V144.84 M224.88,140.36 H227.48 M224.88,144.84 H227.48" stroke="#000" stroke-width="0.8" fill="none"/>
<circle cx="226.18" cy="142.60" r="1.55" fill="#000"/>
<path d="M230.95,147.64 V151.76 M229.65,147.64 H232.25 M229.65,151.76 H232.25" stroke="#000" stroke-width="0.8" fill="none"/>
<circle cx="230.95" cy="149.70" r="1.55" fill="#000"/>
<path d="M235.72,154.84 V158.56 M234.42,154.84 H237.02 M234.42,158.56 H237.02" stroke="#000" stroke-width="0.8" fill="none"/>
<circle cx="235.72" cy="156.70" r="1.55" fill="#000"/>
<path d="M240.48,157.60 V161.20 M239.18,157.60 H241.78 M239.18,161.20 H241.78" stroke="#000" stroke-width="0.8" fill="none"/>
<circle cx="240.48" cy="159.40" r="1.55" fill="#000"/>
<path d="M245.25,161.00 V164.60 M243.95,161.00 H246.55 M243.95,164.60 H246.55" stroke="#000" stroke-width="0.8" fill="none"/>
<circle cx="245.25" cy="162.80" r="1.55" fill="#000"/>
<path d="M250.02,164.40 V168.00 M248.72,164.40 H251.32 M248.72,168.00 H251.32" stroke="#000" stroke-width="0.8" fill="none"/>
<circle cx="250.02" cy="166.20" r="1.55" fill="#000"/>
<path d="M254.78,161.60 V165.20 M253.48,161.60 H256.08 M253.48,165.20 H256.08" stroke="#000" stroke-width="0.8" fill="none"/>
<circle cx="254.78" cy="163.40" r="1.55" fill="#000"/>
<path d="M259.55,158.70 V162.30 M258.25,158.70 H260.85 M258.25,162.30 H260.85" stroke="#000" stroke-width="0.8" fill="none"/>
<circle cx="259.55" cy="160.50" r="1.55" fill="#000"/>
<path d="M264.32,151.55 V155.45 M263.02,151.55 H265.62 M263.02,155.45 H265.62" stroke="#000" stroke-width="0.8" fill="none"/>
<circle cx="264.32" cy="153.50" r="1.55" fill="#000"/>
<path d="M269.08,144.36 V148.64 M267.78,144.36 H270.38 M267.78,148.64 H270.38" stroke="#000" stroke-width="0.8" fill="none"/>
<circle cx="269.08" cy="146.50" r="1.55" fill="#000"/>
<path d="M273.85,139.03 V143.57 M272.55,139.03 H275.15 M272.55,143.57 H275.15" stroke="#000" stroke-width="0.8" fill="none"/>
<circle cx="273.85" cy="141.30" r="1.55" fill="#000"/>
<path d="M278.62,129.01 V133.99 M277.32,129.01 H279.92 M277.32,133.99 H279.92" stroke="#000" stroke-width="0.8" fill="none"/>
<circle cx="278.62" cy="131.50" r="1.55" fill="#000"/>
<path d="M283.38,117.27 V122.73 M282.08,117.27 H284.68 M282.08,122.73 H284.68" stroke="#000" stroke-width="0.8" fill="none"/>
<circle cx="283.38" cy="120.00" r="1.55" fill="#000"/>
<path d="M288.15,122.17 V127.43 M286.85,122.17 H289.45 M286.85,127.43 H289.45" stroke="#000" stroke-width="0.8" fill="none"/>
<circle cx="288.15" cy="124.80" r="1.55" fill="#000"/>
<path d="M292.92,128.50 V133.50 M291.62,128.50 H294.22 M291.62,133.50 H294.22" stroke="#000" stroke-width="0.8" fill="none"/>
<circle cx="292.92" cy="131.00" r="1.55" fill="#000"/>
<path d="M297.68,132.89 V137.71 M296.38,132.89 H298.98 M296.38,137.71 H298.98" stroke="#000" stroke-width="0.8" fill="none"/>
<circle cx="297.68" cy="135.30" r="1.55" fill="#000"/>
<path d="M302.45,138.83 V143.37 M301.15,138.83 H303.75 M301.15,143.37 H303.75" stroke="#000" stroke-width="0.8" fill="none"/>
<circle cx="302.45" cy="141.10" r="1.55" fill="#000"/>
<path d="M307.22,145.80 V150.00 M305.92,145.80 H308.52 M305.92,150.00 H308.52" stroke="#000" stroke-width="0.8" fill="none"/>
<circle cx="307.22" cy="147.90" r="1.55" fill="#000"/>
<path d="M311.98,157.80 V161.40 M310.68,157.80 H313.28 M310.68,161.40 H313.28" stroke="#000" stroke-width="0.8" fill="none"/>
<circle cx="311.98" cy="159.60" r="1.55" fill="#000"/>
<path d="M316.75,168.60 V172.20 M315.45,168.60 H318.05 M315.45,172.20 H318.05" stroke="#000" stroke-width="0.8" fill="none"/>
<circle cx="316.75" cy="170.40" r="1.55" fill="#000"/>
<path d="M321.52,185.20 V188.80 M320.22,185.20 H322.82 M320.22,188.80 H322.82" stroke="#000" stroke-width="0.8" fill="none"/>
<circle cx="321.52" cy="187.00" r="1.55" fill="#000"/></g>
<g clip-path="url(#rc)"><rect x="35.50" y="207.52" width="4.77" height="6.16" fill="#a4a4a4"/>
<rect x="40.27" y="209.37" width="4.77" height="2.46" fill="#a4a4a4"/>
<rect x="45.03" y="209.37" width="4.77" height="2.46" fill="#a4a4a4"/>
<rect x="49.80" y="209.37" width="4.77" height="2.46" fill="#a4a4a4"/>
<rect x="54.57" y="209.37" width="4.77" height="2.46" fill="#a4a4a4"/>
<rect x="59.33" y="209.37" width="4.77" height="2.46" fill="#a4a4a4"/>
<rect x="64.10" y="209.37" width="4.77" height="2.46" fill="#a4a4a4"/>
<rect x="68.87" y="209.37" width="4.77" height="2.46" fill="#a4a4a4"/>
<rect x="73.63" y="209.37" width="4.77" height="2.46" fill="#a4a4a4"/>
<rect x="78.40" y="209.37" width="4.77" height="2.46" fill="#a4a4a4"/>
<rect x="83.17" y="209.37" width="4.77" height="2.46" fill="#a4a4a4"/>
<rect x="87.93" y="209.37" width="4.77" height="2.46" fill="#a4a4a4"/>
<rect x="92.70" y="209.37" width="4.77" height="2.46" fill="#a4a4a4"/>
<rect x="97.47" y="209.37" width="4.77" height="2.46" fill="#a4a4a4"/>
<rect x="102.23" y="209.37" width="4.77" height="2.46" fill="#a4a4a4"/>
<rect x="107.00" y="209.37" width="4.77" height="2.46" fill="#a4a4a4"/>
<rect x="111.77" y="209.37" width="4.77" height="2.46" fill="#a4a4a4"/>
<rect x="116.53" y="209.37" width="4.77" height="2.46" fill="#a4a4a4"/>
<rect x="121.30" y="209.37" width="4.77" height="2.46" fill="#a4a4a4"/>
<rect x="126.07" y="209.37" width="4.77" height="2.46" fill="#a4a4a4"/>
<rect x="130.83" y="209.37" width="4.77" height="2.46" fill="#a4a4a4"/>
<rect x="135.60" y="209.37" width="4.77" height="2.46" fill="#a4a4a4"/>
<rect x="140.37" y="209.37" width="4.77" height="2.46" fill="#a4a4a4"/>
<rect x="145.13" y="209.37" width="4.77" height="2.46" fill="#a4a4a4"/>
<rect x="149.90" y="209.37" width="4.77" height="2.46" fill="#a4a4a4"/>
<rect x="154.67" y="209.37" width="4.77" height="2.46" fill="#a4a4a4"/>
<rect x="159.43" y="209.37" width="4.77" height="2.46" fill="#a4a4a4"/>
<rect x="164.20" y="209.37" width="4.77" height="2.46" fill="#a4a4a4"/>
<rect x="168.97" y="209.37" width="4.77" height="2.46" fill="#a4a4a4"/>
<rect x="173.73" y="205.84" width="4.77" height="9.52" fill="#a4a4a4"/>
<line x1="35.5" y1="210.60" x2="178.5" y2="210.60" stroke="#777" stroke-width="0.8"/>
<path d="M37.88,225.76 V231.60 M36.38,225.76 H39.38 M36.38,231.60 H39.38" stroke="#000" stroke-width="0.75" fill="none"/>
<circle cx="37.88" cy="230.76" r="1.15" fill="#000"/>
<path d="M42.65,212.94 V218.34 M41.15,212.94 H44.15 M41.15,218.34 H44.15" stroke="#000" stroke-width="0.75" fill="none"/>
<circle cx="42.65" cy="215.64" r="1.15" fill="#000"/>
<path d="M47.42,211.26 V216.66 M45.92,211.26 H48.92 M45.92,216.66 H48.92" stroke="#000" stroke-width="0.75" fill="none"/>
<circle cx="47.42" cy="213.96" r="1.15" fill="#000"/>
<path d="M52.18,209.02 V214.42 M50.68,209.02 H53.68 M50.68,214.42 H53.68" stroke="#000" stroke-width="0.75" fill="none"/>
<circle cx="52.18" cy="211.72" r="1.15" fill="#000"/>
<path d="M56.95,205.10 V210.50 M55.45,205.10 H58.45 M55.45,210.50 H58.45" stroke="#000" stroke-width="0.75" fill="none"/>
<circle cx="56.95" cy="207.80" r="1.15" fill="#000"/>
<path d="M61.72,205.66 V211.06 M60.22,205.66 H63.22 M60.22,211.06 H63.22" stroke="#000" stroke-width="0.75" fill="none"/>
<circle cx="61.72" cy="208.36" r="1.15" fill="#000"/>
<path d="M66.48,207.90 V213.30 M64.98,207.90 H67.98 M64.98,213.30 H67.98" stroke="#000" stroke-width="0.75" fill="none"/>
<circle cx="66.48" cy="210.60" r="1.15" fill="#000"/>
<path d="M71.25,207.34 V212.74 M69.75,207.34 H72.75 M69.75,212.74 H72.75" stroke="#000" stroke-width="0.75" fill="none"/>
<circle cx="71.25" cy="210.04" r="1.15" fill="#000"/>
<path d="M76.02,208.46 V213.86 M74.52,208.46 H77.52 M74.52,213.86 H77.52" stroke="#000" stroke-width="0.75" fill="none"/>
<circle cx="76.02" cy="211.16" r="1.15" fill="#000"/>
<path d="M80.78,206.22 V211.62 M79.28,206.22 H82.28 M79.28,211.62 H82.28" stroke="#000" stroke-width="0.75" fill="none"/>
<circle cx="80.78" cy="208.92" r="1.15" fill="#000"/>
<path d="M85.55,203.98 V209.38 M84.05,203.98 H87.05 M84.05,209.38 H87.05" stroke="#000" stroke-width="0.75" fill="none"/>
<circle cx="85.55" cy="206.68" r="1.15" fill="#000"/>
<path d="M90.32,210.14 V215.54 M88.82,210.14 H91.82 M88.82,215.54 H91.82" stroke="#000" stroke-width="0.75" fill="none"/>
<circle cx="90.32" cy="212.84" r="1.15" fill="#000"/>
<path d="M95.08,207.90 V213.30 M93.58,207.90 H96.58 M93.58,213.30 H96.58" stroke="#000" stroke-width="0.75" fill="none"/>
<circle cx="95.08" cy="210.60" r="1.15" fill="#000"/>
<path d="M99.85,211.82 V217.22 M98.35,211.82 H101.35 M98.35,217.22 H101.35" stroke="#000" stroke-width="0.75" fill="none"/>
<circle cx="99.85" cy="214.52" r="1.15" fill="#000"/>
<path d="M104.62,204.54 V209.94 M103.12,204.54 H106.12 M103.12,209.94 H106.12" stroke="#000" stroke-width="0.75" fill="none"/>
<circle cx="104.62" cy="207.24" r="1.15" fill="#000"/>
<path d="M109.38,212.94 V218.34 M107.88,212.94 H110.88 M107.88,218.34 H110.88" stroke="#000" stroke-width="0.75" fill="none"/>
<circle cx="109.38" cy="215.64" r="1.15" fill="#000"/>
<path d="M114.15,212.94 V218.34 M112.65,212.94 H115.65 M112.65,218.34 H115.65" stroke="#000" stroke-width="0.75" fill="none"/>
<circle cx="114.15" cy="215.64" r="1.15" fill="#000"/>
<path d="M118.92,203.98 V209.38 M117.42,203.98 H120.42 M117.42,209.38 H120.42" stroke="#000" stroke-width="0.75" fill="none"/>
<circle cx="118.92" cy="206.68" r="1.15" fill="#000"/>
<path d="M123.68,210.14 V215.54 M122.18,210.14 H125.18 M122.18,215.54 H125.18" stroke="#000" stroke-width="0.75" fill="none"/>
<circle cx="123.68" cy="212.84" r="1.15" fill="#000"/>
<path d="M128.45,207.34 V212.74 M126.95,207.34 H129.95 M126.95,212.74 H129.95" stroke="#000" stroke-width="0.75" fill="none"/>
<circle cx="128.45" cy="210.04" r="1.15" fill="#000"/>
<path d="M133.22,208.46 V213.86 M131.72,208.46 H134.72 M131.72,213.86 H134.72" stroke="#000" stroke-width="0.75" fill="none"/>
<circle cx="133.22" cy="211.16" r="1.15" fill="#000"/>
<path d="M137.98,207.34 V212.74 M136.48,207.34 H139.48 M136.48,212.74 H139.48" stroke="#000" stroke-width="0.75" fill="none"/>
<circle cx="137.98" cy="210.04" r="1.15" fill="#000"/>
<path d="M142.75,206.78 V212.18 M141.25,206.78 H144.25 M141.25,212.18 H144.25" stroke="#000" stroke-width="0.75" fill="none"/>
<circle cx="142.75" cy="209.48" r="1.15" fill="#000"/>
<path d="M147.52,209.58 V214.98 M146.02,209.58 H149.02 M146.02,214.98 H149.02" stroke="#000" stroke-width="0.75" fill="none"/>
<circle cx="147.52" cy="212.28" r="1.15" fill="#000"/>
<path d="M152.28,204.54 V209.94 M150.78,204.54 H153.78 M150.78,209.94 H153.78" stroke="#000" stroke-width="0.75" fill="none"/>
<circle cx="152.28" cy="207.24" r="1.15" fill="#000"/>
<path d="M157.05,209.58 V214.98 M155.55,209.58 H158.55 M155.55,214.98 H158.55" stroke="#000" stroke-width="0.75" fill="none"/>
<circle cx="157.05" cy="212.28" r="1.15" fill="#000"/>
<path d="M161.82,206.78 V212.18 M160.32,206.78 H163.32 M160.32,212.18 H163.32" stroke="#000" stroke-width="0.75" fill="none"/>
<circle cx="161.82" cy="209.48" r="1.15" fill="#000"/>
<path d="M166.58,207.90 V213.30 M165.08,207.90 H168.08 M165.08,213.30 H168.08" stroke="#000" stroke-width="0.75" fill="none"/>
<circle cx="166.58" cy="210.60" r="1.15" fill="#000"/>
<path d="M171.35,208.46 V213.86 M169.85,208.46 H172.85 M169.85,213.86 H172.85" stroke="#000" stroke-width="0.75" fill="none"/>
<circle cx="171.35" cy="211.16" r="1.15" fill="#000"/>
<path d="M176.12,200.24 V214.24 M174.62,200.24 H177.62 M174.62,214.24 H177.62" stroke="#000" stroke-width="0.75" fill="none"/>
<circle cx="176.12" cy="207.24" r="1.15" fill="#000"/></g>
<g clip-path="url(#rt)"><rect x="180.90" y="198.28" width="4.77" height="24.64" fill="#a4a4a4"/>
<rect x="185.67" y="202.76" width="4.77" height="15.68" fill="#a4a4a4"/>
<rect x="190.43" y="208.36" width="4.77" height="4.48" fill="#a4a4a4"/>
<rect x="195.20" y="209.37" width="4.77" height="2.46" fill="#a4a4a4"/>
<rect x="199.97" y="209.37" width="4.77" height="2.46" fill="#a4a4a4"/>
<rect x="204.73" y="209.37" width="4.77" height="2.46" fill="#a4a4a4"/>
<rect x="209.50" y="209.37" width="4.77" height="2.46" fill="#a4a4a4"/>
<rect x="214.27" y="209.37" width="4.77" height="2.46" fill="#a4a4a4"/>
<rect x="219.03" y="209.37" width="4.77" height="2.46" fill="#a4a4a4"/>
<rect x="223.80" y="209.37" width="4.77" height="2.46" fill="#a4a4a4"/>
<rect x="228.57" y="209.37" width="4.77" height="2.46" fill="#a4a4a4"/>
<rect x="233.33" y="209.37" width="4.77" height="2.46" fill="#a4a4a4"/>
<rect x="238.10" y="209.37" width="4.77" height="2.46" fill="#a4a4a4"/>
<rect x="242.87" y="209.37" width="4.77" height="2.46" fill="#a4a4a4"/>
<rect x="247.63" y="209.37" width="4.77" height="2.46" fill="#a4a4a4"/>
<rect x="252.40" y="209.37" width="4.77" height="2.46" fill="#a4a4a4"/>
<rect x="257.17" y="209.37" width="4.77" height="2.46" fill="#a4a4a4"/>
<rect x="261.93" y="209.37" width="4.77" height="2.46" fill="#a4a4a4"/>
<rect x="266.70" y="209.37" width="4.77" height="2.46" fill="#a4a4a4"/>
<rect x="271.47" y="209.37" width="4.77" height="2.46" fill="#a4a4a4"/>
<rect x="276.23" y="209.37" width="4.77" height="2.46" fill="#a4a4a4"/>
<rect x="281.00" y="209.37" width="4.77" height="2.46" fill="#a4a4a4"/>
<rect x="285.77" y="209.37" width="4.77" height="2.46" fill="#a4a4a4"/>
<rect x="290.53" y="209.37" width="4.77" height="2.46" fill="#a4a4a4"/>
<rect x="295.30" y="209.37" width="4.77" height="2.46" fill="#a4a4a4"/>
<rect x="300.07" y="209.37" width="4.77" height="2.46" fill="#a4a4a4"/>
<rect x="304.83" y="209.37" width="4.77" height="2.46" fill="#a4a4a4"/>
<rect x="309.60" y="209.37" width="4.77" height="2.46" fill="#a4a4a4"/>
<rect x="314.37" y="209.37" width="4.77" height="2.46" fill="#a4a4a4"/>
<rect x="319.13" y="207.24" width="4.77" height="6.72" fill="#a4a4a4"/>
<line x1="180.9" y1="210.60" x2="323.9" y2="210.60" stroke="#777" stroke-width="0.8"/>
<path d="M183.28,191.96 V207.96 M181.78,191.96 H184.78 M181.78,207.96 H184.78" stroke="#000" stroke-width="0.75" fill="none"/>
<circle cx="183.28" cy="199.96" r="1.15" fill="#000"/>
<path d="M188.05,211.82 V217.22 M186.55,211.82 H189.55 M186.55,217.22 H189.55" stroke="#000" stroke-width="0.75" fill="none"/>
<circle cx="188.05" cy="214.52" r="1.15" fill="#000"/>
<path d="M192.82,209.02 V214.42 M191.32,209.02 H194.32 M191.32,214.42 H194.32" stroke="#000" stroke-width="0.75" fill="none"/>
<circle cx="192.82" cy="211.72" r="1.15" fill="#000"/>
<path d="M197.58,207.90 V213.30 M196.08,207.90 H199.08 M196.08,213.30 H199.08" stroke="#000" stroke-width="0.75" fill="none"/>
<circle cx="197.58" cy="210.60" r="1.15" fill="#000"/>
<path d="M202.35,205.66 V211.06 M200.85,205.66 H203.85 M200.85,211.06 H203.85" stroke="#000" stroke-width="0.75" fill="none"/>
<circle cx="202.35" cy="208.36" r="1.15" fill="#000"/>
<path d="M207.12,210.14 V215.54 M205.62,210.14 H208.62 M205.62,215.54 H208.62" stroke="#000" stroke-width="0.75" fill="none"/>
<circle cx="207.12" cy="212.84" r="1.15" fill="#000"/>
<path d="M211.88,207.90 V213.30 M210.38,207.90 H213.38 M210.38,213.30 H213.38" stroke="#000" stroke-width="0.75" fill="none"/>
<circle cx="211.88" cy="210.60" r="1.15" fill="#000"/>
<path d="M216.65,205.10 V210.50 M215.15,205.10 H218.15 M215.15,210.50 H218.15" stroke="#000" stroke-width="0.75" fill="none"/>
<circle cx="216.65" cy="207.80" r="1.15" fill="#000"/>
<path d="M221.42,207.90 V213.30 M219.92,207.90 H222.92 M219.92,213.30 H222.92" stroke="#000" stroke-width="0.75" fill="none"/>
<circle cx="221.42" cy="210.60" r="1.15" fill="#000"/>
<path d="M226.18,203.98 V209.38 M224.68,203.98 H227.68 M224.68,209.38 H227.68" stroke="#000" stroke-width="0.75" fill="none"/>
<circle cx="226.18" cy="206.68" r="1.15" fill="#000"/>
<path d="M230.95,206.22 V211.62 M229.45,206.22 H232.45 M229.45,211.62 H232.45" stroke="#000" stroke-width="0.75" fill="none"/>
<circle cx="230.95" cy="208.92" r="1.15" fill="#000"/>
<path d="M235.72,206.22 V211.62 M234.22,206.22 H237.22 M234.22,211.62 H237.22" stroke="#000" stroke-width="0.75" fill="none"/>
<circle cx="235.72" cy="208.92" r="1.15" fill="#000"/>
<path d="M240.48,203.98 V209.38 M238.98,203.98 H241.98 M238.98,209.38 H241.98" stroke="#000" stroke-width="0.75" fill="none"/>
<circle cx="240.48" cy="206.68" r="1.15" fill="#000"/>
<path d="M245.25,207.90 V213.30 M243.75,207.90 H246.75 M243.75,213.30 H246.75" stroke="#000" stroke-width="0.75" fill="none"/>
<circle cx="245.25" cy="210.60" r="1.15" fill="#000"/>
<path d="M250.02,212.94 V218.34 M248.52,212.94 H251.52 M248.52,218.34 H251.52" stroke="#000" stroke-width="0.75" fill="none"/>
<circle cx="250.02" cy="215.64" r="1.15" fill="#000"/>
<path d="M254.78,209.02 V214.42 M253.28,209.02 H256.28 M253.28,214.42 H256.28" stroke="#000" stroke-width="0.75" fill="none"/>
<circle cx="254.78" cy="211.72" r="1.15" fill="#000"/>
<path d="M259.55,211.82 V217.22 M258.05,211.82 H261.05 M258.05,217.22 H261.05" stroke="#000" stroke-width="0.75" fill="none"/>
<circle cx="259.55" cy="214.52" r="1.15" fill="#000"/>
<path d="M264.32,206.22 V211.62 M262.82,206.22 H265.82 M262.82,211.62 H265.82" stroke="#000" stroke-width="0.75" fill="none"/>
<circle cx="264.32" cy="208.92" r="1.15" fill="#000"/>
<path d="M269.08,205.66 V211.06 M267.58,205.66 H270.58 M267.58,211.06 H270.58" stroke="#000" stroke-width="0.75" fill="none"/>
<circle cx="269.08" cy="208.36" r="1.15" fill="#000"/>
<path d="M273.85,211.26 V216.66 M272.35,211.26 H275.35 M272.35,216.66 H275.35" stroke="#000" stroke-width="0.75" fill="none"/>
<circle cx="273.85" cy="213.96" r="1.15" fill="#000"/>
<path d="M278.62,211.82 V217.22 M277.12,211.82 H280.12 M277.12,217.22 H280.12" stroke="#000" stroke-width="0.75" fill="none"/>
<circle cx="278.62" cy="214.52" r="1.15" fill="#000"/>
<path d="M283.38,205.66 V211.06 M281.88,205.66 H284.88 M281.88,211.06 H284.88" stroke="#000" stroke-width="0.75" fill="none"/>
<circle cx="283.38" cy="208.36" r="1.15" fill="#000"/>
<path d="M288.15,208.46 V213.86 M286.65,208.46 H289.65 M286.65,213.86 H289.65" stroke="#000" stroke-width="0.75" fill="none"/>
<circle cx="288.15" cy="211.16" r="1.15" fill="#000"/>
<path d="M292.92,211.26 V216.66 M291.42,211.26 H294.42 M291.42,216.66 H294.42" stroke="#000" stroke-width="0.75" fill="none"/>
<circle cx="292.92" cy="213.96" r="1.15" fill="#000"/>
<path d="M297.68,206.78 V212.18 M296.18,206.78 H299.18 M296.18,212.18 H299.18" stroke="#000" stroke-width="0.75" fill="none"/>
<circle cx="297.68" cy="209.48" r="1.15" fill="#000"/>
<path d="M302.45,209.58 V214.98 M300.95,209.58 H303.95 M300.95,214.98 H303.95" stroke="#000" stroke-width="0.75" fill="none"/>
<circle cx="302.45" cy="212.28" r="1.15" fill="#000"/>
<path d="M307.22,210.14 V215.54 M305.72,210.14 H308.72 M305.72,215.54 H308.72" stroke="#000" stroke-width="0.75" fill="none"/>
<circle cx="307.22" cy="212.84" r="1.15" fill="#000"/>
<path d="M311.98,209.02 V214.42 M310.48,209.02 H313.48 M310.48,214.42 H313.48" stroke="#000" stroke-width="0.75" fill="none"/>
<circle cx="311.98" cy="211.72" r="1.15" fill="#000"/>
<path d="M316.75,202.86 V208.26 M315.25,202.86 H318.25 M315.25,208.26 H318.25" stroke="#000" stroke-width="0.75" fill="none"/>
<circle cx="316.75" cy="205.56" r="1.15" fill="#000"/>
<path d="M321.52,216.72 V231.60 M320.02,216.72 H323.02 M320.02,231.60 H323.02" stroke="#000" stroke-width="0.75" fill="none"/>
<circle cx="321.52" cy="225.72" r="1.15" fill="#000"/></g>
<rect x="35.5" y="21.6" width="143.00" height="166.90" fill="none" stroke="#7a7a7a" stroke-width="1"/>
<rect x="35.5" y="190.7" width="143.00" height="40.90" fill="none" stroke="#7a7a7a" stroke-width="1"/>
<rect x="35.0" y="187.9" width="144" height="2.5" fill="#a8a8a8"/>
<path d="M54.70,21.6 v2.2 M54.70,188.5 v-2.2 M54.70,190.7 v2.2 M54.70,231.6 v-2.2 M91.00,21.6 v2.2 M91.00,188.5 v-2.2 M91.00,190.7 v2.2 M91.00,231.6 v-2.2 M127.30,21.6 v2.2 M127.30,188.5 v-2.2 M127.30,190.7 v2.2 M127.30,231.6 v-2.2 M163.60,21.6 v2.2 M163.60,188.5 v-2.2 M163.60,190.7 v2.2 M163.60,231.6 v-2.2 M35.5,188.50 h2.2 M178.5,188.50 h-2.2 M35.5,149.70 h2.2 M178.5,149.70 h-2.2 M35.5,110.90 h2.2 M178.5,110.90 h-2.2 M35.5,72.10 h2.2 M178.5,72.10 h-2.2 M35.5,33.30 h2.2 M178.5,33.30 h-2.2 M35.5,221.80 h2.2 M178.5,221.80 h-2.2 M35.5,210.60 h2.2 M178.5,210.60 h-2.2 M35.5,199.40 h2.2 M178.5,199.40 h-2.2" stroke="#7a7a7a" stroke-width="0.8" fill="none"/>
<rect x="180.9" y="21.6" width="143.00" height="166.90" fill="none" stroke="#7a7a7a" stroke-width="1"/>
<rect x="180.9" y="190.7" width="143.00" height="40.90" fill="none" stroke="#7a7a7a" stroke-width="1"/>
<rect x="180.4" y="187.9" width="144" height="2.5" fill="#a8a8a8"/>
<path d="M200.10,21.6 v2.2 M200.10,188.5 v-2.2 M200.10,190.7 v2.2 M200.10,231.6 v-2.2 M236.40,21.6 v2.2 M236.40,188.5 v-2.2 M236.40,190.7 v2.2 M236.40,231.6 v-2.2 M272.70,21.6 v2.2 M272.70,188.5 v-2.2 M272.70,190.7 v2.2 M272.70,231.6 v-2.2 M309.00,21.6 v2.2 M309.00,188.5 v-2.2 M309.00,190.7 v2.2 M309.00,231.6 v-2.2 M180.9,188.50 h2.2 M323.9,188.50 h-2.2 M180.9,149.70 h2.2 M323.9,149.70 h-2.2 M180.9,110.90 h2.2 M323.9,110.90 h-2.2 M180.9,72.10 h2.2 M323.9,72.10 h-2.2 M180.9,33.30 h2.2 M323.9,33.30 h-2.2 M180.9,221.80 h2.2 M323.9,221.80 h-2.2 M180.9,210.60 h2.2 M323.9,210.60 h-2.2 M180.9,199.40 h2.2 M323.9,199.40 h-2.2" stroke="#7a7a7a" stroke-width="0.8" fill="none"/>
<g font-family="Liberation Serif, serif" font-size="10.5" fill="#000" text-anchor="end">
<text x="33.8" y="192.10" textLength="4.75" lengthAdjust="spacingAndGlyphs">0</text>
<text x="33.8" y="153.30" textLength="14.25" lengthAdjust="spacingAndGlyphs">500</text>
<text x="33.8" y="114.50" textLength="19.00" lengthAdjust="spacingAndGlyphs">1000</text>
<text x="33.8" y="75.70" textLength="19.00" lengthAdjust="spacingAndGlyphs">1500</text>
<text x="33.8" y="36.90" textLength="19.00" lengthAdjust="spacingAndGlyphs">2000</text>
<text x="33.8" y="202.40">1.2</text>
<text x="33.8" y="213.60">1.0</text>
<text x="33.8" y="224.80">0.8</text>
</g>
<g font-family="Liberation Serif, serif" font-size="10.5" fill="#000" text-anchor="middle">
<text x="54.70" y="241.5">0</text>
<text x="91.00" y="241.5">1</text>
<text x="127.30" y="241.5">2</text>
<text x="163.60" y="241.5">3</text>
<text x="200.10" y="241.5">0</text>
<text x="236.40" y="241.5">1</text>
<text x="272.70" y="241.5">2</text>
<text x="309.00" y="241.5">3</text>
</g>
<text transform="translate(9.2,104.3) rotate(-90)" font-family="Liberation Serif, serif" font-size="11" text-anchor="middle" textLength="82" lengthAdjust="spacingAndGlyphs">Number of Events</text>
<text transform="translate(9.2,210.4) rotate(-90)" font-family="Liberation Serif, serif" font-size="11" text-anchor="middle" textLength="76" lengthAdjust="spacingAndGlyphs">Ratio to Best Fit</text>
<text x="118.7" y="251.4" font-family="Liberation Serif, serif" font-size="10.6" textLength="121.5" lengthAdjust="spacingAndGlyphs">log<tspan font-size="7" dy="2">10</tspan><tspan dy="-2">(</tspan><tspan font-style="italic">L</tspan><tspan font-size="7" dy="2">reco</tspan><tspan dy="-2">/</tspan><tspan font-style="italic">E</tspan><tspan font-size="7" dy="2">reco</tspan><tspan dy="-2"> [km/GeV])</tspan></text>
<line x1="46" y1="37.2" x2="53" y2="37.2" stroke="#b020c0" stroke-width="1" stroke-dasharray="0.9 1.5"/>
<text x="60" y="42.4" font-family="Liberation Serif, serif" font-size="13" textLength="36.5" lengthAdjust="spacingAndGlyphs">no osc.</text>
<rect x="204.4" y="33.5" width="6.3" height="8.6" fill="url(#pG)" stroke="#2f6b55" stroke-width="0.8"/>
<rect x="204.4" y="53.9" width="6.3" height="8.6" fill="url(#pE)" stroke="#5b7cff" stroke-width="0.8"/>
<rect x="204.4" y="72.8" width="6.3" height="8.6" fill="url(#pT)" stroke="#3a3ad0" stroke-width="0.8"/>
<rect x="204.4" y="91.4" width="6.3" height="8.6" fill="url(#pN)" stroke="#3535ff" stroke-width="0.8"/>
<text x="213.7" y="41.8" font-family="Liberation Serif, serif" font-size="14" font-style="italic" textLength="6.0" lengthAdjust="spacingAndGlyphs">ν</text>
<text x="219.4" y="45.3" font-family="Liberation Serif, serif" font-size="9" font-style="italic" textLength="5.0" lengthAdjust="spacingAndGlyphs">μ</text>
<text x="229.4" y="41.8" font-family="Liberation Serif, serif" font-size="13.2" textLength="16.4" lengthAdjust="spacingAndGlyphs">CC</text>
<text x="213.7" y="62.5" font-family="Liberation Serif, serif" font-size="14" font-style="italic" textLength="6.0" lengthAdjust="spacingAndGlyphs">ν</text>
<text x="219.6" y="65.6" font-family="Liberation Serif, serif" font-size="9" font-style="italic" textLength="4.2" lengthAdjust="spacingAndGlyphs">e</text>
<text x="230.2" y="62.5" font-family="Liberation Serif, serif" font-size="13.2" textLength="16.6" lengthAdjust="spacingAndGlyphs">CC</text>
<text x="213.7" y="81.3" font-family="Liberation Serif, serif" font-size="14" font-style="italic" textLength="6.0" lengthAdjust="spacingAndGlyphs">ν</text>
<text x="219.6" y="84.4" font-family="Liberation Serif, serif" font-size="9" font-style="italic" textLength="4.2" lengthAdjust="spacingAndGlyphs">τ</text>
<text x="228.0" y="81.3" font-family="Liberation Serif, serif" font-size="13.2" textLength="16.2" lengthAdjust="spacingAndGlyphs">CC</text>
<text x="213.7" y="99.3" font-family="Liberation Serif, serif" font-size="14" font-style="italic" textLength="6.0" lengthAdjust="spacingAndGlyphs">ν</text>
<text x="224.0" y="99.3" font-family="Liberation Serif, serif" font-size="13.2" textLength="18.0" lengthAdjust="spacingAndGlyphs">NC</text>
<rect x="255.4" y="33.3" width="7" height="9.2" fill="url(#pR)" stroke="#d64a4a" stroke-width="0.8"/>
<text x="264.9" y="41.8" font-family="Liberation Serif, serif" font-size="14" font-style="italic" textLength="6.3" lengthAdjust="spacingAndGlyphs">μ</text>
<text x="272.0" y="44.9" font-family="Liberation Serif, serif" font-size="9" font-style="italic" textLength="15.3" lengthAdjust="spacingAndGlyphs">atm</text>
<rect x="256.2" y="53.3" width="5.4" height="7.9" fill="#999"/>
<text x="264.8" y="61.2" font-family="Liberation Serif, serif" font-size="13.5" font-style="italic" textLength="6.4" lengthAdjust="spacingAndGlyphs">σ</text>
<text x="273.1" y="55.8" font-family="Liberation Serif, serif" font-size="8.8" textLength="21.1" lengthAdjust="spacingAndGlyphs">uncor</text>
<text x="271.6" y="64.3" font-family="Liberation Serif, serif" font-size="9" font-style="italic" textLength="4.0" lengthAdjust="spacingAndGlyphs">ν</text>
<text x="276.0" y="64.3" font-family="Liberation Serif, serif" font-size="9" textLength="5.0" lengthAdjust="spacingAndGlyphs">+</text>
<text x="281.3" y="64.3" font-family="Liberation Serif, serif" font-size="9" font-style="italic" textLength="4.3" lengthAdjust="spacingAndGlyphs">μ</text>
<text x="285.8" y="66.6" font-family="Liberation Serif, serif" font-size="6.5" textLength="15.0" lengthAdjust="spacingAndGlyphs">atm</text>
<path d="M258.7,70.6 V83.2 M257.4,70.6 H260 M257.4,83.2 H260" stroke="#000" stroke-width="0.9"/><circle cx="258.7" cy="77" r="1.4"/>
<text x="268.8" y="81.6" font-family="Liberation Serif, serif" font-size="13.2" textLength="23.6" lengthAdjust="spacingAndGlyphs">data</text>
<path d="M502.40,3.4 V52.8 M502.40,52.8 V225.9 M571.10,3.4 V52.8 M571.10,52.8 V225.9 M379.0,28.10 H632.2 M379.0,215.60 H632.2 M632.2,215.60 H683.0 M379.0,195.14 H632.2 M632.2,195.14 H683.0 M379.0,174.68 H632.2 M632.2,174.68 H683.0 M379.0,154.22 H632.2 M632.2,154.22 H683.0 M379.0,113.30 H632.2 M632.2,113.30 H683.0" stroke="#d0d0d0" stroke-width="0.6" stroke-dasharray="1 1.8" fill="none"/>
<clipPath id="ctp"><rect x="379" y="3.4" width="253.2" height="49.4"/></clipPath>
<clipPath id="cmp"><rect x="379" y="52.8" width="253.2" height="173.1"/></clipPath>
<clipPath id="crp"><rect x="632.2" y="52.8" width="50.8" height="173.1"/></clipPath>
<g clip-path="url(#ctp)"><path d="M431.30,-3.00 C431.63,-1.95 431.68,0.05 433.30,3.30 C434.92,6.55 438.27,12.48 441.00,16.50 C443.73,20.52 446.53,23.87 449.70,27.40 C452.87,30.93 456.22,34.68 460.00,37.70 C463.78,40.72 468.27,43.37 472.40,45.50 C476.53,47.63 479.83,49.27 484.80,50.50 C489.77,51.73 496.40,52.80 502.20,52.90 C508.00,53.00 514.97,51.85 519.60,51.10 C524.23,50.35 525.97,49.78 530.00,48.40 C534.03,47.02 539.25,45.57 543.80,42.80 C548.35,40.03 553.60,35.47 557.30,31.80 C561.00,28.13 563.02,25.55 566.00,20.80 C568.98,16.05 573.33,7.27 575.20,3.30 C577.07,-0.67 576.87,-1.95 577.20,-3.00" fill="none" stroke="#1f4a40" stroke-width="2.3"/></g>
<path d="M399.35,16.24 L419.96,18.71 L440.57,24.27 L461.18,32.05 L481.79,42.52 L502.40,48.77 L523.01,46.25 L543.62,37.98 L564.23,29.51 L584.84,22.42 L605.45,17.97" fill="none" stroke="#e07b39" stroke-width="0.9"/>
<circle cx="399.35" cy="16.24" r="0.9" fill="#e07b39"/>
<circle cx="419.96" cy="18.71" r="0.9" fill="#e07b39"/>
<circle cx="440.57" cy="24.27" r="0.9" fill="#e07b39"/>
<circle cx="461.18" cy="32.05" r="0.9" fill="#e07b39"/>
<circle cx="481.79" cy="42.52" r="0.9" fill="#e07b39"/>
<circle cx="502.40" cy="48.77" r="0.9" fill="#e07b39"/>
<circle cx="523.01" cy="46.25" r="0.9" fill="#e07b39"/>
<circle cx="543.62" cy="37.98" r="0.9" fill="#e07b39"/>
<circle cx="564.23" cy="29.51" r="0.9" fill="#e07b39"/>
<circle cx="584.84" cy="22.42" r="0.9" fill="#e07b39"/>
<circle cx="605.45" cy="17.97" r="0.9" fill="#e07b39"/>
<text x="595" y="17" font-family="Liberation Serif, serif" font-size="10" fill="#d2691e" textLength="31" lengthAdjust="spacingAndGlyphs">FC 68%</text>
<g clip-path="url(#crp)"><path d="M775.72,215.60 L770.81,215.09 L765.99,214.58 L761.26,214.07 L756.61,213.55 L752.04,213.04 L747.56,212.53 L743.17,212.02 L738.86,211.51 L734.63,211.00 L730.50,210.49 L726.44,209.97 L722.48,209.46 L718.59,208.95 L714.80,208.44 L711.08,207.93 L707.46,207.42 L703.92,206.90 L700.46,206.39 L697.09,205.88 L693.81,205.37 L690.61,204.86 L687.49,204.35 L684.46,203.84 L681.52,203.32 L678.66,202.81 L675.89,202.30 L673.20,201.79 L670.60,201.28 L668.08,200.77 L665.65,200.25 L663.30,199.74 L661.04,199.23 L658.86,198.72 L656.77,198.21 L654.77,197.70 L652.85,197.19 L651.01,196.67 L649.27,196.16 L647.60,195.65 L646.02,195.14 L644.53,194.63 L643.12,194.12 L641.80,193.61 L640.56,193.09 L639.41,192.58 L638.34,192.07 L637.36,191.56 L636.47,191.05 L635.66,190.54 L634.93,190.03 L634.29,189.51 L633.74,189.00 L633.27,188.49 L632.88,187.98 L632.58,187.47 L632.37,186.96 L632.24,186.44 L632.20,185.93 L632.23,185.42 L632.33,184.91 L632.48,184.40 L632.70,183.89 L632.99,183.38 L633.33,182.86 L633.74,182.35 L634.22,181.84 L634.75,181.33 L635.35,180.82 L636.01,180.31 L636.73,179.79 L637.52,179.28 L638.37,178.77 L639.29,178.26 L640.26,177.75 L641.30,177.24 L642.40,176.73 L643.57,176.21 L644.80,175.70 L646.09,175.19 L647.44,174.68 L648.86,174.17 L650.34,173.66 L651.88,173.15 L653.49,172.63 L655.16,172.12 L656.89,171.61 L658.68,171.10 L660.54,170.59 L662.46,170.08 L664.45,169.56 L666.49,169.05 L668.60,168.54 L670.78,168.03 L673.01,167.52 L675.31,167.01 L677.67,166.50 L680.10,165.98 L682.59,165.47 L685.14,164.96 L687.75,164.45 L690.43,163.94 L693.17,163.43 L695.97,162.92 L698.84,162.40 L701.77,161.89 L704.76,161.38 L707.81,160.87 L710.93,160.36 L714.11,159.85 L717.35,159.34 L720.66,158.82 L724.03,158.31 L727.46,157.80 L730.96,157.29 L734.52,156.78 L738.14,156.27 L741.82,155.75 L745.57,155.24 L749.38,154.73 L753.25,154.22" fill="none" stroke="#1f4a40" stroke-width="2.3"/></g>
<path d="M658.00,218.00 L655.60,210.90 L651.40,202.60 L651.20,192.00 L651.80,183.00 L654.20,173.40 L656.80,162.00 L659.10,151.20" fill="none" stroke="#e07b39" stroke-width="0.9"/>
<circle cx="658.00" cy="218.00" r="0.9" fill="#e07b39"/>
<circle cx="655.60" cy="210.90" r="0.9" fill="#e07b39"/>
<circle cx="651.40" cy="202.60" r="0.9" fill="#e07b39"/>
<circle cx="651.20" cy="192.00" r="0.9" fill="#e07b39"/>
<circle cx="651.80" cy="183.00" r="0.9" fill="#e07b39"/>
<circle cx="654.20" cy="173.40" r="0.9" fill="#e07b39"/>
<circle cx="656.80" cy="162.00" r="0.9" fill="#e07b39"/>
<circle cx="659.10" cy="151.20" r="0.9" fill="#e07b39"/>
<text x="644.7" y="149.7" font-family="Liberation Serif, serif" font-size="10" fill="#d2691e" textLength="31" lengthAdjust="spacingAndGlyphs">FC 68%</text>
<g clip-path="url(#cmp)">
<path d="M430.00,157.50 C430.17,151.25 430.23,146.67 431.30,142.20 C432.37,137.73 433.85,134.10 436.40,130.70 C438.95,127.30 442.13,123.95 446.60,121.80 C451.07,119.65 456.72,118.68 463.20,117.80 C469.68,116.92 478.80,117.05 485.50,116.50 C492.20,115.95 498.28,115.48 503.40,114.50 C508.52,113.52 511.52,112.32 516.20,110.60 C520.88,108.88 526.70,106.80 531.50,104.20 C536.30,101.60 541.30,97.20 545.00,95.00 C548.70,92.80 549.50,92.35 553.70,91.00 C557.90,89.65 565.62,87.13 570.20,86.90 C574.78,86.67 578.22,87.77 581.20,89.60 C584.18,91.43 585.82,94.00 588.10,97.90 C590.38,101.80 593.08,108.20 594.90,113.00 C596.72,117.80 598.08,120.75 599.00,126.70 C599.92,132.65 600.40,144.20 600.40,148.70 C600.40,153.20 599.92,151.03 599.00,153.70 C598.08,156.37 596.72,160.57 594.90,164.70 C593.08,168.83 591.30,174.38 588.10,178.50 C584.90,182.62 580.05,186.43 575.70,189.40 C571.35,192.37 567.95,194.63 562.00,196.30 C556.05,197.97 550.33,198.53 540.00,199.40 C529.67,200.27 511.67,201.05 500.00,201.50 C488.33,201.95 478.77,202.43 470.00,202.10 C461.23,201.77 452.92,201.25 447.40,199.50 C441.88,197.75 439.75,194.90 436.90,191.60 C434.05,188.30 431.45,185.38 430.30,179.70 C429.15,174.02 429.83,163.75 430.00,157.50Z" fill="none" stroke="#ff3333" stroke-width="1.35" stroke-dasharray="1 1.25"/>
<path d="M418.60,121.80 C424.85,121.75 435.33,125.57 441.50,127.70 C447.67,129.83 451.52,132.47 455.60,134.60 C459.68,136.73 462.60,137.93 466.00,140.50 C469.40,143.07 473.72,147.08 476.00,150.00 C478.28,152.92 479.53,155.33 479.70,158.00 C479.87,160.67 478.37,163.73 477.00,166.00 C475.63,168.27 474.25,170.45 471.50,171.60 C468.75,172.75 464.95,172.87 460.50,172.90 C456.05,172.93 449.62,172.42 444.80,171.80 C439.98,171.18 436.57,170.83 431.60,169.20 C426.63,167.57 419.27,164.20 415.00,162.00 C410.73,159.80 408.50,158.50 406.00,156.00 C403.50,153.50 401.18,150.00 400.00,147.00 C398.82,144.00 398.23,141.17 398.90,138.00 C399.57,134.83 400.72,130.70 404.00,128.00 C407.28,125.30 412.35,121.85 418.60,121.80Z" fill="none" stroke="#1fbfc8" stroke-width="2.1" stroke-dasharray="4.6 1.8 1.3 1.8"/>
<path d="M603.20,121.20 C609.15,121.20 613.47,122.55 616.90,125.30 C620.33,128.05 622.95,133.58 623.80,137.70 C624.65,141.82 623.30,147.03 622.00,150.00 C620.70,152.97 618.22,153.73 616.00,155.50 C613.78,157.27 612.22,158.60 608.70,160.60 C605.18,162.60 600.85,165.67 594.90,167.50 C588.95,169.33 579.40,170.78 573.00,171.60 C566.60,172.42 561.08,172.87 556.50,172.40 C551.92,171.93 548.17,170.70 545.50,168.80 C542.83,166.90 540.97,163.73 540.50,161.00 C540.03,158.27 541.42,154.92 542.70,152.40 C543.98,149.88 544.98,148.82 548.20,145.90 C551.42,142.98 556.50,138.33 562.00,134.90 C567.50,131.47 574.33,127.58 581.20,125.30 C588.07,123.02 597.25,121.20 603.20,121.20Z" fill="none" stroke="#1fbfc8" stroke-width="2.1" stroke-dasharray="4.6 1.8 1.3 1.8"/>
<path d="M449.00,158.50 C449.83,156.17 452.75,152.00 455.00,150.00 C457.25,148.00 459.97,147.47 462.50,146.50 C465.03,145.53 463.95,144.78 470.20,144.20 C476.45,143.62 487.53,143.33 500.00,143.00 C512.47,142.67 533.75,141.78 545.00,142.20 C556.25,142.62 561.92,143.35 567.50,145.50 C573.08,147.65 577.13,152.13 578.50,155.10 C579.87,158.07 578.45,160.78 575.70,163.30 C572.95,165.82 567.03,168.37 562.00,170.20 C556.97,172.03 551.90,172.93 545.50,174.30 C539.10,175.67 531.82,177.72 523.60,178.40 C515.38,179.08 505.13,179.38 496.20,178.40 C487.27,177.42 476.38,174.03 470.00,172.50 C463.62,170.97 461.23,170.62 457.90,169.20 C454.57,167.78 451.48,165.78 450.00,164.00 C448.52,162.22 448.17,160.83 449.00,158.50Z" fill="none" stroke="#cc22cc" stroke-width="2.1" stroke-dasharray="3.6 3.1"/>
<path d="M388.00,166.00 C386.83,162.85 390.57,161.00 393.00,159.50 C395.43,158.00 398.10,157.08 402.60,157.00 C407.10,156.92 414.10,158.08 420.00,159.00 C425.90,159.92 431.33,161.17 438.00,162.50 C444.67,163.83 452.60,165.33 460.00,167.00 C467.40,168.67 474.07,171.08 482.40,172.50 C490.73,173.92 499.57,175.20 510.00,175.50 C520.43,175.80 535.42,175.38 545.00,174.30 C554.58,173.22 559.18,170.97 567.50,169.00 C575.82,167.03 587.35,163.77 594.90,162.50 C602.45,161.23 608.68,160.80 612.80,161.40 C616.92,162.00 618.68,164.17 619.60,166.10 C620.52,168.03 620.12,170.48 618.30,173.00 C616.48,175.52 613.05,178.47 608.70,181.20 C604.35,183.93 599.07,187.33 592.20,189.40 C585.33,191.47 575.37,192.63 567.50,193.60 C559.63,194.57 554.58,194.58 545.00,195.20 C535.42,195.82 520.50,196.95 510.00,197.30 C499.50,197.65 490.33,197.42 482.00,197.30 C473.67,197.18 466.20,196.90 460.00,196.60 C453.80,196.30 451.28,196.78 444.80,195.50 C438.32,194.22 428.57,191.75 421.10,188.90 C413.63,186.05 405.52,182.22 400.00,178.40 C394.48,174.58 389.17,169.15 388.00,166.00Z" fill="none" stroke="#1a8a1a" stroke-width="1.9" stroke-dasharray="1.4 3.1"/>
<path d="M419.80,181.00 C419.75,177.18 423.80,172.67 426.00,170.00 C428.20,167.33 429.43,166.53 433.00,165.00 C436.57,163.47 442.90,161.88 447.40,160.80 C451.90,159.72 454.17,159.08 460.00,158.50 C465.83,157.92 474.07,157.63 482.40,157.30 C490.73,156.97 499.57,156.72 510.00,156.50 C520.43,156.28 535.42,155.83 545.00,156.00 C554.58,156.17 560.55,156.28 567.50,157.50 C574.45,158.72 581.90,160.95 586.70,163.30 C591.50,165.65 594.25,169.07 596.30,171.60 C598.35,174.13 599.22,175.75 599.00,178.50 C598.78,181.25 597.97,185.13 595.00,188.10 C592.03,191.07 588.08,193.88 581.20,196.30 C574.32,198.72 563.07,201.22 553.70,202.60 C544.33,203.98 534.62,204.17 525.00,204.60 C515.38,205.03 505.17,205.27 496.00,205.20 C486.83,205.13 478.53,204.93 470.00,204.20 C461.47,203.47 452.08,202.68 444.80,200.80 C437.52,198.92 430.47,196.20 426.30,192.90 C422.13,189.60 419.85,184.82 419.80,181.00Z" fill="none" stroke="#1f4a40" stroke-width="2.3"/>
<path d="M507.2,181.4 L513.2,187.4 M507.2,187.4 L513.2,181.4" stroke="#284c46" stroke-width="1.7"/>
</g>
<line x1="383.1" y1="63.8" x2="396.8" y2="63.8" stroke="#1f4a40" stroke-width="2"/>
<line x1="383.1" y1="76.5" x2="396.8" y2="76.5" stroke="#1a8a1a" stroke-width="1.9" stroke-dasharray="1.4 3.1"/>
<line x1="383.1" y1="88.7" x2="396.8" y2="88.7" stroke="#cc22cc" stroke-width="2.1" stroke-dasharray="3.6 3.1"/>
<line x1="532.1" y1="63.8" x2="545" y2="63.8" stroke="#ff3333" stroke-width="1.35" stroke-dasharray="1 1.25"/>
<line x1="532.1" y1="76.5" x2="545" y2="76.5" stroke="#1fbfc8" stroke-width="2.1" stroke-dasharray="4.6 1.8 1.3 1.8"/>
<g font-family="Liberation Serif, serif" font-size="10" fill="#111">
<text x="406" y="67.6" textLength="106.8" lengthAdjust="spacingAndGlyphs">IC2017 [NO] (this work)</text>
<text x="406" y="80.3" textLength="86.8" lengthAdjust="spacingAndGlyphs">MINOS w/atm [NO]</text>
<text x="406" y="92.5" textLength="66.4" lengthAdjust="spacingAndGlyphs">T2K 2017 [NO]</text>
<text x="554.7" y="67.6" textLength="73.2" lengthAdjust="spacingAndGlyphs">SK IV 2015 [NO]</text>
<text x="554.7" y="80.3" textLength="74.1" lengthAdjust="spacingAndGlyphs">NO<tspan font-style="italic" font-size="8.5">ν</tspan>A 2017 [NO]</text>
</g>
<rect x="379.0" y="3.4" width="253.20" height="49.40" fill="none" stroke="#1a1a1a" stroke-width="1.2"/>
<rect x="379.0" y="52.8" width="253.20" height="173.10" fill="none" stroke="#1a1a1a" stroke-width="1.2"/>
<line x1="379.0" y1="52.8" x2="683.0" y2="52.8" stroke="#1a1a1a" stroke-width="1.7"/>
<rect x="632.2" y="52.8" width="50.80" height="173.10" fill="none" stroke="#1a1a1a" stroke-width="1.2"/>
<path d="M433.70,52.8 v-3 M433.70,225.9 v-3 M433.70,3.4 v3 M502.40,52.8 v-3 M502.40,225.9 v-3 M502.40,3.4 v3 M571.10,52.8 v-3 M571.10,225.9 v-3 M571.10,3.4 v3 M379.0,215.60 h3 M632.2,215.60 h-3 M632.2,215.60 h3 M683.0,215.60 h-3 M379.0,195.14 h3 M632.2,195.14 h-3 M632.2,195.14 h3 M683.0,195.14 h-3 M379.0,174.68 h3 M632.2,174.68 h-3 M632.2,174.68 h3 M683.0,174.68 h-3 M379.0,154.22 h3 M632.2,154.22 h-3 M632.2,154.22 h3 M683.0,154.22 h-3 M379.0,133.76 h3 M632.2,133.76 h-3 M632.2,133.76 h3 M683.0,133.76 h-3 M379.0,113.30 h3 M632.2,113.30 h-3 M632.2,113.30 h3 M683.0,113.30 h-3 M379.0,92.84 h3 M632.2,92.84 h-3 M632.2,92.84 h3 M683.0,92.84 h-3 M379.0,72.38 h3 M632.2,72.38 h-3 M632.2,72.38 h3 M683.0,72.38 h-3 M379.0,52.80 h3 M632.2,52.80 h-3 M632.20,225.9 v-3 M632.20,52.8 v3 M379.0,28.10 h3 M632.2,28.10 h-3 M657.60,225.9 v-3 M657.60,52.8 v3 M379.0,3.40 h3 M632.2,3.40 h-3 M683.00,225.9 v-3 M683.00,52.8 v3" stroke="#555" stroke-width="0.7" fill="none"/>
<g font-family="Liberation Serif, serif" font-size="9.5" fill="#111" text-anchor="end">
<text x="377.3" y="218.90">2.0</text>
<text x="377.3" y="198.44">2.2</text>
<text x="377.3" y="177.98">2.4</text>
<text x="377.3" y="157.52">2.6</text>
<text x="377.3" y="137.06">2.8</text>
<text x="377.3" y="116.60">3.0</text>
<text x="377.3" y="96.14">3.2</text>
<text x="377.3" y="75.68">3.4</text>
<text x="377.3" y="56.10">0</text>
<text x="377.3" y="31.40">1</text>
<text x="377.3" y="6.70">2</text>
</g>
<g font-family="Liberation Serif, serif" font-size="9.5" fill="#111" text-anchor="middle">
<text x="433.70" y="234.9">0.4</text>
<text x="502.40" y="234.9">0.5</text>
<text x="571.10" y="234.9">0.6</text>
<text x="632.20" y="234.9">0</text>
<text x="657.60" y="234.9">1</text>
<text x="683.00" y="234.9">2</text>
</g>
<text x="485" y="249.8" font-family="Liberation Serif, serif" font-size="11" fill="#111">sin<tspan font-size="7.5" dy="-4">2</tspan><tspan dy="4" font-size="11"> (</tspan><tspan font-style="italic">θ</tspan><tspan font-size="7.5" dy="2.5">23</tspan><tspan dy="-2.5">)</tspan></text>
<text x="649" y="246.6" font-family="Liberation Serif, serif" font-size="9.5" fill="#111">Δ<tspan font-style="italic">χ</tspan><tspan font-size="6" dy="-4">2</tspan></text>
<text transform="translate(367.4,36.5) rotate(-90)" font-family="Liberation Serif, serif" font-size="9.5" fill="#111">Δ<tspan font-style="italic">χ</tspan><tspan font-size="6" dy="-4">2</tspan></text>
<g transform="translate(358.2,183.1) rotate(-90)" fill="#111" font-family="Liberation Serif, serif">
<text x="-0.6" y="1.2" font-size="12" textLength="2.4" lengthAdjust="spacingAndGlyphs">|</text>
<text x="2.1" y="0" font-size="12" textLength="9.2" lengthAdjust="spacingAndGlyphs">Δ</text>
<text x="12.0" y="0" font-size="12" font-style="italic" textLength="7.9" lengthAdjust="spacingAndGlyphs">m</text>
<text x="22.5" y="-4.9" font-size="6.5" textLength="3.0" lengthAdjust="spacingAndGlyphs">2</text>
<text x="20.4" y="0.6" font-size="6.5" textLength="6.4" lengthAdjust="spacingAndGlyphs">32</text>
<text x="29.0" y="1.2" font-size="12" textLength="2.4" lengthAdjust="spacingAndGlyphs">|</text>
<text x="36.3" y="0.5" font-size="12" textLength="3.7" lengthAdjust="spacingAndGlyphs">(</text>
<text x="40.6" y="0" font-size="12" textLength="9.8" lengthAdjust="spacingAndGlyphs">10</text>
<text x="52.4" y="-7.0" font-size="7.5" textLength="7.2" lengthAdjust="spacingAndGlyphs">−3</text>
<text x="62.9" y="0" font-size="12" textLength="5.0" lengthAdjust="spacingAndGlyphs">e</text>
<text x="67.9" y="0" font-size="12" textLength="8.4" lengthAdjust="spacingAndGlyphs">V</text>
<text x="76.3" y="-7.6" font-size="7.5" textLength="3.5" lengthAdjust="spacingAndGlyphs">2</text>
<text x="80.5" y="0.5" font-size="12" textLength="3.7" lengthAdjust="spacingAndGlyphs">)</text>
</g>
<text x="465.6" y="218.6" font-family="Liberation Serif, serif" font-size="9.5" fill="#111" textLength="73.6" lengthAdjust="spacingAndGlyphs">90% CL contours</text>
</svg></body></html>
